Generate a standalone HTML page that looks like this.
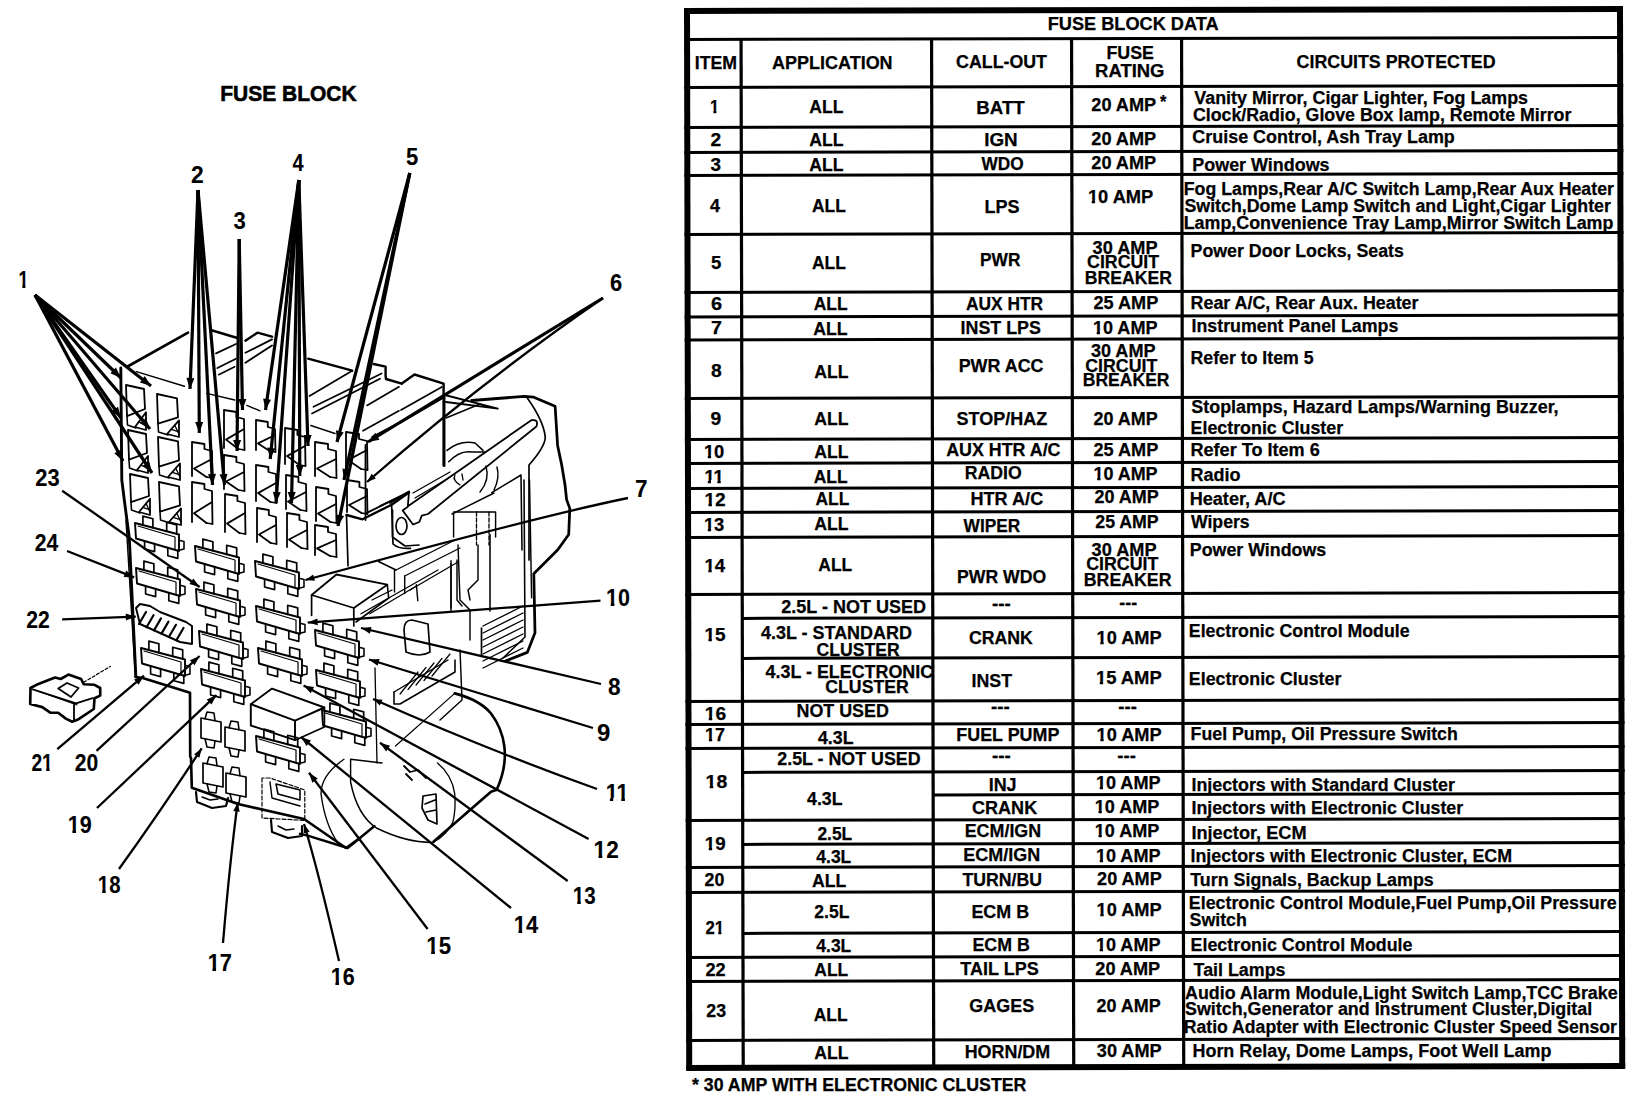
<!DOCTYPE html>
<html><head><meta charset="utf-8"><title>Fuse Block Data</title>
<style>html,body{margin:0;padding:0;background:#fff;}svg{display:block;}</style></head>
<body>
<svg width="1648" height="1100" viewBox="0 0 1648 1100">
<rect width="1648" height="1100" fill="#fff"/>
<g>
<path d="M127.6,366.5 L188.0,332.7" stroke="#000" stroke-width="2.64" fill="none" stroke-linejoin="round" stroke-linecap="round"/>
<path d="M210.7,330.0 L237.4,338.0" stroke="#000" stroke-width="2.40" fill="none" stroke-linejoin="round" stroke-linecap="round"/>
<path d="M245.4,340.7 L257.4,332.7 L272.0,336.7" stroke="#000" stroke-width="2.40" fill="none" stroke-linejoin="round" stroke-linecap="round"/>
<path d="M272.0,339.4 L245.4,352.7" stroke="#000" stroke-width="1.80" fill="none" stroke-linejoin="round" stroke-linecap="round"/>
<path d="M272.0,345.4 L245.4,362.7" stroke="#000" stroke-width="1.80" fill="none" stroke-linejoin="round" stroke-linecap="round"/>
<path d="M236.0,344.0 L216.0,353.4" stroke="#000" stroke-width="1.80" fill="none" stroke-linejoin="round" stroke-linecap="round"/>
<path d="M236.0,358.7 L217.4,368.0" stroke="#000" stroke-width="1.80" fill="none" stroke-linejoin="round" stroke-linecap="round"/>
<path d="M234.7,366.7 L218.7,374.7" stroke="#000" stroke-width="1.56" fill="none" stroke-linejoin="round" stroke-linecap="round"/>
<path d="M308.2,358.7 L352.2,370.7" stroke="#000" stroke-width="2.40" fill="none" stroke-linejoin="round" stroke-linecap="round"/>
<path d="M352.2,370.7 L309.5,396.0" stroke="#000" stroke-width="1.68" fill="none" stroke-linejoin="round" stroke-linecap="round"/>
<path d="M373.6,364.0 L385.6,366.7 L385.6,376.0 L386.0,379.0 L401.8,383.6" stroke="#000" stroke-width="2.40" fill="none" stroke-linejoin="round" stroke-linecap="round"/>
<path d="M401.8,383.6 L414.5,374.5 L443.6,383.6 L443.6,465.5" stroke="#000" stroke-width="2.40" fill="none" stroke-linejoin="round" stroke-linecap="round"/>
<path d="M381.6,373.4 L313.5,406.8" stroke="#000" stroke-width="1.68" fill="none" stroke-linejoin="round" stroke-linecap="round"/>
<path d="M380.0,378.7 L312.0,413.5" stroke="#000" stroke-width="1.68" fill="none" stroke-linejoin="round" stroke-linecap="round"/>
<path d="M399.0,386.8 L367.0,405.4" stroke="#000" stroke-width="1.68" fill="none" stroke-linejoin="round" stroke-linecap="round"/>
<path d="M399.0,410.8 L363.0,430.8" stroke="#000" stroke-width="1.68" fill="none" stroke-linejoin="round" stroke-linecap="round"/>
<path d="M399.0,422.8 L372.0,437.0" stroke="#000" stroke-width="1.68" fill="none" stroke-linejoin="round" stroke-linecap="round"/>
<path d="M441.8,387.0 L401.0,410.0" stroke="#000" stroke-width="1.68" fill="none" stroke-linejoin="round" stroke-linecap="round"/>
<path d="M443.0,398.0 L400.0,423.0" stroke="#000" stroke-width="1.68" fill="none" stroke-linejoin="round" stroke-linecap="round"/>
<path d="M136.4,371.6 L184.4,386.2" stroke="#000" stroke-width="1.44" fill="none" stroke-linejoin="round" stroke-linecap="round"/>
<path d="M206.7,393.4 L234.7,400.0" stroke="#000" stroke-width="1.44" fill="none" stroke-linejoin="round" stroke-linecap="round"/>
<path d="M246.8,405.4 L260.0,410.8" stroke="#000" stroke-width="1.44" fill="none" stroke-linejoin="round" stroke-linecap="round"/>
<path d="M310.8,425.5 L335.0,433.5" stroke="#000" stroke-width="1.44" fill="none" stroke-linejoin="round" stroke-linecap="round"/>
<path d="M443.8,394.7 L497.8,408.6 L446.0,402.0" stroke="#000" stroke-width="1.92" fill="none" stroke-linejoin="round" stroke-linecap="round"/>
<path d="M446.0,418.0 L480.0,404.0" stroke="#000" stroke-width="1.44" fill="none" stroke-linejoin="round" stroke-linecap="round"/>
<path d="M471.7,400.5 L524.0,396.4 L533.8,397.2 L555.1,406.2 L557.6,445.5 L561.7,465.0 L565.0,484.7 L566.6,499.6 L569.8,508.4 L568.7,534.5 L557.8,549.8 L536.0,571.6 L533.8,573.8 L535.0,632.7 L527.3,652.4 L505.5,661.0" stroke="#000" stroke-width="2.76" fill="none" stroke-linejoin="round" stroke-linecap="round"/>
<path d="M527.3,398 Q543.7,421 545.3,437.3 Q545,447 529,465 L529,560" stroke="#000" stroke-width="1.68" fill="none" stroke-linejoin="round" stroke-linecap="round"/>
<path d="M524.0,480.0 L525.0,637.0 L503.0,658.0" stroke="#000" stroke-width="1.56" fill="none" stroke-linejoin="round" stroke-linecap="round"/>
<path d="M529.5,480.0 L531.6,597.8" stroke="#000" stroke-width="1.44" fill="none" stroke-linejoin="round" stroke-linecap="round"/>
<path d="M483.0,626.0 L523.0,606.0" stroke="#000" stroke-width="1.32" fill="none" stroke-linejoin="round" stroke-linecap="round"/>
<path d="M483.0,633.0 L523.0,613.0" stroke="#000" stroke-width="1.32" fill="none" stroke-linejoin="round" stroke-linecap="round"/>
<path d="M483.0,640.0 L523.0,620.0" stroke="#000" stroke-width="1.32" fill="none" stroke-linejoin="round" stroke-linecap="round"/>
<path d="M483.0,647.0 L523.0,627.0" stroke="#000" stroke-width="1.32" fill="none" stroke-linejoin="round" stroke-linecap="round"/>
<path d="M483.0,654.0 L523.0,634.0" stroke="#000" stroke-width="1.32" fill="none" stroke-linejoin="round" stroke-linecap="round"/>
<path d="M483.0,661.0 L523.0,641.0" stroke="#000" stroke-width="1.32" fill="none" stroke-linejoin="round" stroke-linecap="round"/>
<path d="M483.0,668.0 L523.0,648.0" stroke="#000" stroke-width="1.32" fill="none" stroke-linejoin="round" stroke-linecap="round"/>
<path d="M481.5,628.0 L481.5,654.5" stroke="#000" stroke-width="1.68" fill="none" stroke-linejoin="round" stroke-linecap="round"/>
<path d="M490.0,534.5 L490.0,611.0" stroke="#000" stroke-width="1.56" fill="none" stroke-linejoin="round" stroke-linecap="round"/>
<path d="M451.0,560.7 L451.0,611.0" stroke="#000" stroke-width="1.44" fill="none" stroke-linejoin="round" stroke-linecap="round"/>
<path d="M458.0,545.0 L460.0,600.0 L470.0,610.0 L470.0,640.0" stroke="#000" stroke-width="1.44" fill="none" stroke-linejoin="round" stroke-linecap="round"/>
<path d="M478.0,545.0 L478.0,580.0 L468.0,590.0 L470.0,600.0" stroke="#000" stroke-width="1.44" fill="none" stroke-linejoin="round" stroke-linecap="round"/>
<path d="M390,503 L409,491.5 L407.8,506.7 L402.7,510.5 L413,524.5 L419.3,522 L421.8,515.6 L428,514 L536.4,426.5 Q539,419 531.3,420.2 L409,505.5" stroke="#000" stroke-width="1.80" fill="none" stroke-linejoin="round" stroke-linecap="round"/>
<path d="M413.0,493.0 L450.0,472.0" stroke="#000" stroke-width="1.32" fill="none" stroke-linejoin="round" stroke-linecap="round"/>
<path d="M415.0,498.0 L447.0,479.0" stroke="#000" stroke-width="1.32" fill="none" stroke-linejoin="round" stroke-linecap="round"/>
<path d="M455,475 Q452,480 460,485 M462,474 L463,480" stroke="#000" stroke-width="1.32" fill="none" stroke-linejoin="round" stroke-linecap="round"/>
<path d="M486,466 Q490,480 480,492 M497,467 Q500,478 494,490" stroke="#000" stroke-width="1.44" fill="none" stroke-linejoin="round" stroke-linecap="round"/>
<path d="M453.6,537.0 L453.6,512.0 L495.6,512.0 L495.6,537.0" stroke="#000" stroke-width="1.44" fill="none" stroke-linejoin="round" stroke-linecap="round"/>
<path d="M476.5,512.0 L476.5,545.0" stroke="#000" stroke-width="1.32" fill="none" stroke-linejoin="round" stroke-linecap="round" stroke-dasharray="4 2"/>
<path d="M489.0,512.0 L489.0,545.0" stroke="#000" stroke-width="1.32" fill="none" stroke-linejoin="round" stroke-linecap="round" stroke-dasharray="4 2"/>
<path d="M491.8,492.7 L521.0,475.0 L522.0,550.0" stroke="#000" stroke-width="1.56" fill="none" stroke-linejoin="round" stroke-linecap="round"/>
<path d="M392.5,510.0 L392.5,537.0 L405.0,546.0 L419.0,545.0" stroke="#000" stroke-width="1.68" fill="none" stroke-linejoin="round" stroke-linecap="round"/>
<path d="M447,450.4 Q460,440 475,443 L483,450.4" stroke="#000" stroke-width="1.56" fill="none" stroke-linejoin="round" stroke-linecap="round"/>
<path d="M448.7,461.8 Q460,450 471.7,452 L485,452" stroke="#000" stroke-width="1.44" fill="none" stroke-linejoin="round" stroke-linecap="round"/>
<path d="M396,526 a5.5,8.5 0 1,0 11,0 a5.5,8.5 0 1,0 -11,0" stroke="#000" stroke-width="1.68" fill="none" stroke-linejoin="round" stroke-linecap="round"/>
<path d="M380.0,506.0 L407.8,493.0" stroke="#000" stroke-width="1.68" fill="none" stroke-linejoin="round" stroke-linecap="round"/>
<path d="M452.0,514.0 L494.0,493.0" stroke="#000" stroke-width="1.44" fill="none" stroke-linejoin="round" stroke-linecap="round"/>
<path d="M365.5,445.0 L365.5,520.0" stroke="#000" stroke-width="1.80" fill="none" stroke-linejoin="round" stroke-linecap="round"/>
<path d="M367.3,512.7 L409.0,491.8" stroke="#000" stroke-width="1.92" fill="none" stroke-linejoin="round" stroke-linecap="round"/>
<path d="M444.5,394.0 L444.5,466.0" stroke="#000" stroke-width="1.92" fill="none" stroke-linejoin="round" stroke-linecap="round"/>
<path d="M346.5,515.0 L362.5,519.3 L391.6,504.7 L409.0,492.4" stroke="#000" stroke-width="2.40" fill="none" stroke-linejoin="round" stroke-linecap="round"/>
<path d="M346.5,515.0 L348.0,565.8" stroke="#000" stroke-width="1.68" fill="none" stroke-linejoin="round" stroke-linecap="round"/>
<path d="M391.6,504.7 L393,544 Q398,549 410.5,548.4" stroke="#000" stroke-width="1.68" fill="none" stroke-linejoin="round" stroke-linecap="round"/>
<path d="M311.6,595.0 L336.4,574.5 L387.3,584.7 L353.8,608.0Z" stroke="#000" stroke-width="1.80" fill="none" stroke-linejoin="round" stroke-linecap="round"/>
<path d="M311.6,595.0 L311.6,615.3" stroke="#000" stroke-width="1.68" fill="none" stroke-linejoin="round" stroke-linecap="round"/>
<path d="M353.8,608.0 L353.8,626.0" stroke="#000" stroke-width="1.68" fill="none" stroke-linejoin="round" stroke-linecap="round"/>
<path d="M387.3,584.7 L388.7,598.0 L356.0,622.0" stroke="#000" stroke-width="1.56" fill="none" stroke-linejoin="round" stroke-linecap="round"/>
<path d="M378.5,561.5 L396.0,570.0" stroke="#000" stroke-width="1.56" fill="none" stroke-linejoin="round" stroke-linecap="round"/>
<path d="M361.0,613.8 L438.0,570.0" stroke="#000" stroke-width="1.32" fill="none" stroke-linejoin="round" stroke-linecap="round"/>
<path d="M369.8,613.8 L416.4,586.0" stroke="#000" stroke-width="1.32" fill="none" stroke-linejoin="round" stroke-linecap="round"/>
<path d="M404.7,576.0 L460.0,548.0" stroke="#000" stroke-width="1.32" fill="none" stroke-linejoin="round" stroke-linecap="round"/>
<path d="M396.0,570.0 L455.0,540.0" stroke="#000" stroke-width="1.32" fill="none" stroke-linejoin="round" stroke-linecap="round"/>
<path d="M410.0,590.0 L458.0,562.0" stroke="#000" stroke-width="1.32" fill="none" stroke-linejoin="round" stroke-linecap="round"/>
<path d="M372.0,600.0 L392.0,590.0" stroke="#000" stroke-width="1.32" fill="none" stroke-linejoin="round" stroke-linecap="round"/>
<path d="M394.5,570.0 L394.5,592.0" stroke="#000" stroke-width="1.44" fill="none" stroke-linejoin="round" stroke-linecap="round"/>
<path d="M404.7,576.0 L404.7,593.5" stroke="#000" stroke-width="1.44" fill="none" stroke-linejoin="round" stroke-linecap="round"/>
<path d="M416.4,584.7 L417.8,600.7" stroke="#000" stroke-width="1.44" fill="none" stroke-linejoin="round" stroke-linecap="round"/>
<path d="M451.0,564.0 L451.0,608.0" stroke="#000" stroke-width="1.44" fill="none" stroke-linejoin="round" stroke-linecap="round"/>
<path d="M457.0,560.0 L457.0,600.0 L462.0,606.0" stroke="#000" stroke-width="1.44" fill="none" stroke-linejoin="round" stroke-linecap="round"/>
<path d="M404,630 Q404,620 412,620 L428,624 L430,652 Q420,658 406,652 Z" stroke="#000" stroke-width="1.68" fill="none" stroke-linejoin="round" stroke-linecap="round"/>
<path d="M394.0,692.0 L394.0,704.0 L400.0,704.0 L455.0,672.0 L455.0,660.0" stroke="#000" stroke-width="1.56" fill="none" stroke-linejoin="round" stroke-linecap="round"/>
<path d="M394.0,692.0 L448.0,660.0" stroke="#000" stroke-width="1.44" fill="none" stroke-linejoin="round" stroke-linecap="round"/>
<path d="M400.0,694.0 L418.0,672.0" stroke="#000" stroke-width="1.20" fill="none" stroke-linejoin="round" stroke-linecap="round"/>
<path d="M408.0,689.5 L426.0,667.5" stroke="#000" stroke-width="1.20" fill="none" stroke-linejoin="round" stroke-linecap="round"/>
<path d="M416.0,685.0 L434.0,663.0" stroke="#000" stroke-width="1.20" fill="none" stroke-linejoin="round" stroke-linecap="round"/>
<path d="M424.0,680.5 L442.0,658.5" stroke="#000" stroke-width="1.20" fill="none" stroke-linejoin="round" stroke-linecap="round"/>
<path d="M432.0,676.0 L450.0,654.0" stroke="#000" stroke-width="1.20" fill="none" stroke-linejoin="round" stroke-linecap="round"/>
<path d="M460.0,650.0 L462.0,700.0 L440.0,720.0" stroke="#000" stroke-width="1.44" fill="none" stroke-linejoin="round" stroke-linecap="round"/>
<path d="M120.8,368.0 L121.8,480.0 L124.3,500.0 L129.3,538.0 L135.8,675.6" stroke="#000" stroke-width="2.88" fill="none" stroke-linejoin="round" stroke-linecap="round"/>
<path d="M126.0,520.0 L135.4,677.0" stroke="#000" stroke-width="1.44" fill="none" stroke-linejoin="round" stroke-linecap="round"/>
<path d="M135.4,677.0 L142.7,678.0 L190.0,692.7 L190.2,756.6 L191.0,758.0 L191.8,787.7 L238.0,804.0 L304.0,819.0 L346.0,848.0 L360.0,838.0" stroke="#000" stroke-width="2.64" fill="none" stroke-linejoin="round" stroke-linecap="round"/>
<path d="M300.0,833.8 L307.6,835.7 L347.7,848.0 L374.5,826.0" stroke="#000" stroke-width="2.40" fill="none" stroke-linejoin="round" stroke-linecap="round"/>
<path d="M196.0,792.0 L197.0,802.0 L212.0,808.0 L226.0,806.0 L228.0,798.0" stroke="#000" stroke-width="2.16" fill="none" stroke-linejoin="round" stroke-linecap="round"/>
<path d="M271.0,820.0 L272.0,832.0 L288.0,838.0 L302.0,836.0 L302.0,826.0" stroke="#000" stroke-width="2.16" fill="none" stroke-linejoin="round" stroke-linecap="round"/>
<path d="M202.0,797.0 L210.0,800.0 L218.0,799.0" stroke="#000" stroke-width="1.44" fill="none" stroke-linejoin="round" stroke-linecap="round"/>
<path d="M278.0,826.0 L286.0,830.0 L294.0,829.0" stroke="#000" stroke-width="1.44" fill="none" stroke-linejoin="round" stroke-linecap="round"/>
<path d="M262.0,778.0 L262.0,818.0 L304.8,820.4 L304.8,790.0 L270.0,778.0Z" stroke="#000" stroke-width="1.20" fill="none" stroke-linejoin="round" stroke-linecap="round" stroke-dasharray="4 2"/>
<path d="M270.0,782.0 L272.0,798.0 L300.0,806.0" stroke="#000" stroke-width="1.44" fill="none" stroke-linejoin="round" stroke-linecap="round"/>
<path d="M276.0,784.0 L300.0,790.0 L300.0,800.0 L278.0,794.0Z" stroke="#000" stroke-width="1.56" fill="none" stroke-linejoin="round" stroke-linecap="round"/>
<path d="M250.8,704.2 L272.0,688.6 L324.4,707.5 L295.0,720.6Z" stroke="#000" stroke-width="1.92" fill="none" stroke-linejoin="round" stroke-linecap="round"/>
<path d="M250.8,704.2 L250.8,725.5 L295.0,740.2 L295.0,720.6" stroke="#000" stroke-width="1.92" fill="none" stroke-linejoin="round" stroke-linecap="round"/>
<path d="M295.0,740.2 L324.4,727.0 L324.4,707.5" stroke="#000" stroke-width="1.68" fill="none" stroke-linejoin="round" stroke-linecap="round"/>
<path d="M126.0,385.0 L144.0,389.0 L145.0,409.0 L127.0,416.2Z" stroke="#000" stroke-width="1.80" fill="none" stroke-linejoin="round" stroke-linecap="round"/><path d="M127.0,416.2 L127.5,425.0 L135.9,428.0" stroke="#000" stroke-width="1.56" fill="none" stroke-linejoin="round" stroke-linecap="round"/><path d="M135.0,427.0 L146.0,412.2 L146.0,430.0Z" stroke="#000" stroke-width="1.80" fill="none" stroke-linejoin="round" stroke-linecap="round"/><path d="M138.8,421.8 L146.0,424.8" stroke="#000" stroke-width="1.32" fill="none" stroke-linejoin="round" stroke-linecap="round"/><path d="M142.2,417.4 L146.0,427.2" stroke="#000" stroke-width="1.32" fill="none" stroke-linejoin="round" stroke-linecap="round"/>
<path d="M128.0,430.0 L146.0,434.0 L147.0,453.0 L129.0,459.6Z" stroke="#000" stroke-width="1.80" fill="none" stroke-linejoin="round" stroke-linecap="round"/><path d="M129.0,459.6 L129.5,468.0 L137.9,471.0" stroke="#000" stroke-width="1.56" fill="none" stroke-linejoin="round" stroke-linecap="round"/><path d="M137.0,470.0 L148.0,456.0 L148.0,473.0Z" stroke="#000" stroke-width="1.80" fill="none" stroke-linejoin="round" stroke-linecap="round"/><path d="M140.8,465.1 L148.0,467.8" stroke="#000" stroke-width="1.32" fill="none" stroke-linejoin="round" stroke-linecap="round"/><path d="M144.2,460.9 L148.0,470.2" stroke="#000" stroke-width="1.32" fill="none" stroke-linejoin="round" stroke-linecap="round"/>
<path d="M130.0,474.0 L148.0,478.0 L149.0,496.0 L131.0,502.1Z" stroke="#000" stroke-width="1.80" fill="none" stroke-linejoin="round" stroke-linecap="round"/><path d="M131.0,502.1 L131.5,510.0 L139.9,513.0" stroke="#000" stroke-width="1.56" fill="none" stroke-linejoin="round" stroke-linecap="round"/><path d="M139.0,512.0 L150.0,498.8 L150.0,515.0Z" stroke="#000" stroke-width="1.80" fill="none" stroke-linejoin="round" stroke-linecap="round"/><path d="M142.8,507.4 L150.0,509.8" stroke="#000" stroke-width="1.32" fill="none" stroke-linejoin="round" stroke-linecap="round"/><path d="M146.2,503.4 L150.0,512.2" stroke="#000" stroke-width="1.32" fill="none" stroke-linejoin="round" stroke-linecap="round"/>
<path d="M157.0,394.0 L177.0,398.4 L178.0,417.4 L158.0,423.6Z" stroke="#000" stroke-width="1.80" fill="none" stroke-linejoin="round" stroke-linecap="round"/><path d="M158.0,423.6 L158.5,432.0 L168.0,435.0" stroke="#000" stroke-width="1.56" fill="none" stroke-linejoin="round" stroke-linecap="round"/><path d="M167.0,434.0 L179.0,420.4 L179.0,437.0Z" stroke="#000" stroke-width="1.80" fill="none" stroke-linejoin="round" stroke-linecap="round"/><path d="M171.2,429.3 L179.0,431.8" stroke="#000" stroke-width="1.32" fill="none" stroke-linejoin="round" stroke-linecap="round"/><path d="M174.8,425.2 L179.0,434.2" stroke="#000" stroke-width="1.32" fill="none" stroke-linejoin="round" stroke-linecap="round"/>
<path d="M158.0,437.0 L178.0,441.4 L179.0,460.4 L159.0,466.6Z" stroke="#000" stroke-width="1.80" fill="none" stroke-linejoin="round" stroke-linecap="round"/><path d="M159.0,466.6 L159.5,475.0 L169.0,478.0" stroke="#000" stroke-width="1.56" fill="none" stroke-linejoin="round" stroke-linecap="round"/><path d="M168.0,477.0 L180.0,463.4 L180.0,480.0Z" stroke="#000" stroke-width="1.80" fill="none" stroke-linejoin="round" stroke-linecap="round"/><path d="M172.2,472.3 L180.0,474.8" stroke="#000" stroke-width="1.32" fill="none" stroke-linejoin="round" stroke-linecap="round"/><path d="M175.8,468.2 L180.0,477.2" stroke="#000" stroke-width="1.32" fill="none" stroke-linejoin="round" stroke-linecap="round"/>
<path d="M159.0,482.0 L179.0,486.4 L180.0,505.4 L160.0,511.6Z" stroke="#000" stroke-width="1.80" fill="none" stroke-linejoin="round" stroke-linecap="round"/><path d="M160.0,511.6 L160.5,520.0 L170.0,523.0" stroke="#000" stroke-width="1.56" fill="none" stroke-linejoin="round" stroke-linecap="round"/><path d="M169.0,522.0 L181.0,508.4 L181.0,525.0Z" stroke="#000" stroke-width="1.80" fill="none" stroke-linejoin="round" stroke-linecap="round"/><path d="M173.2,517.3 L181.0,519.8" stroke="#000" stroke-width="1.32" fill="none" stroke-linejoin="round" stroke-linecap="round"/><path d="M176.8,513.2 L181.0,522.2" stroke="#000" stroke-width="1.32" fill="none" stroke-linejoin="round" stroke-linecap="round"/>
<path d="M192.0,476.0 L192.0,442.0 L204.4,444.0 L204.4,449.0 L212.0,451.0 L212.5,478.0" stroke="#000" stroke-width="1.80" fill="none" stroke-linejoin="round" stroke-linecap="round"/><path d="M212.0,459.0 L194.0,468.5 L206.4,477.0" stroke="#000" stroke-width="1.80" fill="none" stroke-linejoin="round" stroke-linecap="round"/><path d="M206.4,477.0 L212.5,478.0" stroke="#000" stroke-width="1.44" fill="none" stroke-linejoin="round" stroke-linecap="round"/>
<path d="M192.0,522.0 L192.0,482.0 L204.4,484.0 L204.4,489.0 L212.0,491.0 L212.5,524.0" stroke="#000" stroke-width="1.80" fill="none" stroke-linejoin="round" stroke-linecap="round"/><path d="M212.0,502.0 L194.0,513.2 L206.4,523.0" stroke="#000" stroke-width="1.80" fill="none" stroke-linejoin="round" stroke-linecap="round"/><path d="M206.4,523.0 L212.5,524.0" stroke="#000" stroke-width="1.44" fill="none" stroke-linejoin="round" stroke-linecap="round"/>
<path d="M224.0,448.0 L224.0,410.0 L236.4,412.0 L236.4,417.0 L244.0,419.0 L244.5,450.0" stroke="#000" stroke-width="1.80" fill="none" stroke-linejoin="round" stroke-linecap="round"/><path d="M244.0,429.0 L226.0,439.6 L238.4,449.0" stroke="#000" stroke-width="1.80" fill="none" stroke-linejoin="round" stroke-linecap="round"/><path d="M238.4,449.0 L244.5,450.0" stroke="#000" stroke-width="1.44" fill="none" stroke-linejoin="round" stroke-linecap="round"/>
<path d="M224.0,489.0 L224.0,455.0 L236.4,457.0 L236.4,462.0 L244.0,464.0 L244.5,491.0" stroke="#000" stroke-width="1.80" fill="none" stroke-linejoin="round" stroke-linecap="round"/><path d="M244.0,472.0 L226.0,481.5 L238.4,490.0" stroke="#000" stroke-width="1.80" fill="none" stroke-linejoin="round" stroke-linecap="round"/><path d="M238.4,490.0 L244.5,491.0" stroke="#000" stroke-width="1.44" fill="none" stroke-linejoin="round" stroke-linecap="round"/>
<path d="M225.0,532.0 L225.0,494.0 L237.4,496.0 L237.4,501.0 L245.0,503.0 L245.5,534.0" stroke="#000" stroke-width="1.80" fill="none" stroke-linejoin="round" stroke-linecap="round"/><path d="M245.0,513.0 L227.0,523.6 L239.4,533.0" stroke="#000" stroke-width="1.80" fill="none" stroke-linejoin="round" stroke-linecap="round"/><path d="M239.4,533.0 L245.5,534.0" stroke="#000" stroke-width="1.44" fill="none" stroke-linejoin="round" stroke-linecap="round"/>
<path d="M256.0,450.0 L256.0,420.0 L267.8,422.0 L267.8,427.0 L275.0,429.0 L275.5,452.0" stroke="#000" stroke-width="1.80" fill="none" stroke-linejoin="round" stroke-linecap="round"/><path d="M275.0,435.0 L258.0,443.4 L269.7,451.0" stroke="#000" stroke-width="1.80" fill="none" stroke-linejoin="round" stroke-linecap="round"/><path d="M269.7,451.0 L275.5,452.0" stroke="#000" stroke-width="1.44" fill="none" stroke-linejoin="round" stroke-linecap="round"/>
<path d="M256.0,501.0 L256.0,465.0 L268.4,467.0 L268.4,472.0 L276.0,474.0 L276.5,503.0" stroke="#000" stroke-width="1.80" fill="none" stroke-linejoin="round" stroke-linecap="round"/><path d="M276.0,483.0 L258.0,493.1 L270.4,502.0" stroke="#000" stroke-width="1.80" fill="none" stroke-linejoin="round" stroke-linecap="round"/><path d="M270.4,502.0 L276.5,503.0" stroke="#000" stroke-width="1.44" fill="none" stroke-linejoin="round" stroke-linecap="round"/>
<path d="M257.0,542.0 L257.0,508.0 L268.8,510.0 L268.8,515.0 L276.0,517.0 L276.5,544.0" stroke="#000" stroke-width="1.80" fill="none" stroke-linejoin="round" stroke-linecap="round"/><path d="M276.0,525.0 L259.0,534.5 L270.7,543.0" stroke="#000" stroke-width="1.80" fill="none" stroke-linejoin="round" stroke-linecap="round"/><path d="M270.7,543.0 L276.5,544.0" stroke="#000" stroke-width="1.44" fill="none" stroke-linejoin="round" stroke-linecap="round"/>
<path d="M285.0,464.0 L285.0,428.0 L297.4,430.0 L297.4,435.0 L305.0,437.0 L305.5,466.0" stroke="#000" stroke-width="1.80" fill="none" stroke-linejoin="round" stroke-linecap="round"/><path d="M305.0,446.0 L287.0,456.1 L299.4,465.0" stroke="#000" stroke-width="1.80" fill="none" stroke-linejoin="round" stroke-linecap="round"/><path d="M299.4,465.0 L305.5,466.0" stroke="#000" stroke-width="1.44" fill="none" stroke-linejoin="round" stroke-linecap="round"/>
<path d="M286.0,509.0 L286.0,475.0 L298.4,477.0 L298.4,482.0 L306.0,484.0 L306.5,511.0" stroke="#000" stroke-width="1.80" fill="none" stroke-linejoin="round" stroke-linecap="round"/><path d="M306.0,492.0 L288.0,501.5 L300.4,510.0" stroke="#000" stroke-width="1.80" fill="none" stroke-linejoin="round" stroke-linecap="round"/><path d="M300.4,510.0 L306.5,511.0" stroke="#000" stroke-width="1.44" fill="none" stroke-linejoin="round" stroke-linecap="round"/>
<path d="M287.0,547.0 L287.0,513.0 L299.4,515.0 L299.4,520.0 L307.0,522.0 L307.5,549.0" stroke="#000" stroke-width="1.80" fill="none" stroke-linejoin="round" stroke-linecap="round"/><path d="M307.0,530.0 L289.0,539.5 L301.4,548.0" stroke="#000" stroke-width="1.80" fill="none" stroke-linejoin="round" stroke-linecap="round"/><path d="M301.4,548.0 L307.5,549.0" stroke="#000" stroke-width="1.44" fill="none" stroke-linejoin="round" stroke-linecap="round"/>
<path d="M315.0,476.0 L315.0,442.0 L328.0,444.0 L328.0,449.0 L336.0,451.0 L336.5,478.0" stroke="#000" stroke-width="1.80" fill="none" stroke-linejoin="round" stroke-linecap="round"/><path d="M336.0,459.0 L317.0,468.5 L330.1,477.0" stroke="#000" stroke-width="1.80" fill="none" stroke-linejoin="round" stroke-linecap="round"/><path d="M330.1,477.0 L336.5,478.0" stroke="#000" stroke-width="1.44" fill="none" stroke-linejoin="round" stroke-linecap="round"/>
<path d="M316.0,521.0 L316.0,487.0 L328.4,489.0 L328.4,494.0 L336.0,496.0 L336.5,523.0" stroke="#000" stroke-width="1.80" fill="none" stroke-linejoin="round" stroke-linecap="round"/><path d="M336.0,504.0 L318.0,513.5 L330.4,522.0" stroke="#000" stroke-width="1.80" fill="none" stroke-linejoin="round" stroke-linecap="round"/><path d="M330.4,522.0 L336.5,523.0" stroke="#000" stroke-width="1.44" fill="none" stroke-linejoin="round" stroke-linecap="round"/>
<path d="M315.0,555.0 L315.0,525.0 L328.0,527.0 L328.0,532.0 L336.0,534.0 L336.5,557.0" stroke="#000" stroke-width="1.80" fill="none" stroke-linejoin="round" stroke-linecap="round"/><path d="M336.0,540.0 L317.0,548.4 L330.1,556.0" stroke="#000" stroke-width="1.80" fill="none" stroke-linejoin="round" stroke-linecap="round"/><path d="M330.1,556.0 L336.5,557.0" stroke="#000" stroke-width="1.44" fill="none" stroke-linejoin="round" stroke-linecap="round"/>
<path d="M346.0,468.0 L346.0,432.0 L359.0,434.0 L359.0,439.0 L367.0,441.0 L367.5,470.0" stroke="#000" stroke-width="1.80" fill="none" stroke-linejoin="round" stroke-linecap="round"/><path d="M367.0,450.0 L348.0,460.1 L361.1,469.0" stroke="#000" stroke-width="1.80" fill="none" stroke-linejoin="round" stroke-linecap="round"/><path d="M361.1,469.0 L367.5,470.0" stroke="#000" stroke-width="1.44" fill="none" stroke-linejoin="round" stroke-linecap="round"/>
<path d="M347.0,512.0 L347.0,480.0 L359.4,482.0 L359.4,487.0 L367.0,489.0 L367.5,514.0" stroke="#000" stroke-width="1.80" fill="none" stroke-linejoin="round" stroke-linecap="round"/><path d="M367.0,496.0 L349.0,505.0 L361.4,513.0" stroke="#000" stroke-width="1.80" fill="none" stroke-linejoin="round" stroke-linecap="round"/><path d="M361.4,513.0 L367.5,514.0" stroke="#000" stroke-width="1.44" fill="none" stroke-linejoin="round" stroke-linecap="round"/>
<path d="M136.0,608.0 L140.0,604.0 L150.0,606.0 L160.0,612.0 L186.0,622.0 L192.0,626.0 L192.0,644.0 L180.0,642.0 L140.0,624.0Z" stroke="#000" stroke-width="1.92" fill="none" stroke-linejoin="round" stroke-linecap="round"/>
<path d="M146.0,612.0 L139.0,624.0" stroke="#000" stroke-width="2.16" fill="none" stroke-linejoin="round" stroke-linecap="round"/>
<path d="M153.5,615.2 L146.5,627.2" stroke="#000" stroke-width="2.16" fill="none" stroke-linejoin="round" stroke-linecap="round"/>
<path d="M161.0,618.4 L154.0,630.4" stroke="#000" stroke-width="2.16" fill="none" stroke-linejoin="round" stroke-linecap="round"/>
<path d="M168.5,621.6 L161.5,633.6" stroke="#000" stroke-width="2.16" fill="none" stroke-linejoin="round" stroke-linecap="round"/>
<path d="M176.0,624.8 L169.0,636.8" stroke="#000" stroke-width="2.16" fill="none" stroke-linejoin="round" stroke-linecap="round"/>
<path d="M183.5,628.0 L176.5,640.0" stroke="#000" stroke-width="2.16" fill="none" stroke-linejoin="round" stroke-linecap="round"/>
<path d="M135.0,523.0 L179.0,534.5 L179.0,551.0 L136.0,538.5Z" stroke="#000" stroke-width="1.92" fill="none" stroke-linejoin="round" stroke-linecap="round"/><path d="M138.0,526.0 L175.0,537.0 L175.0,549.0" stroke="#000" stroke-width="1.20" fill="none" stroke-linejoin="round" stroke-linecap="round"/><path d="M142.9,525.1 L142.9,516.1 L152.9,518.7 L152.9,527.7" stroke="#000" stroke-width="1.68" fill="none" stroke-linejoin="round" stroke-linecap="round"/><path d="M166.7,531.3 L166.7,522.3 L176.7,524.9 L176.7,533.9" stroke="#000" stroke-width="1.68" fill="none" stroke-linejoin="round" stroke-linecap="round"/><path d="M144.6,541.0 L144.6,549.0 L154.6,551.6 L154.6,543.6" stroke="#000" stroke-width="1.68" fill="none" stroke-linejoin="round" stroke-linecap="round"/><path d="M167.8,547.8 L167.8,555.8 L177.8,558.4 L177.8,550.4" stroke="#000" stroke-width="1.68" fill="none" stroke-linejoin="round" stroke-linecap="round"/><path d="M180.0,540.5 L184.0,541.5 L184.0,549.0 L180.0,550.0" stroke="#000" stroke-width="1.56" fill="none" stroke-linejoin="round" stroke-linecap="round"/>
<path d="M136.0,568.0 L180.0,579.5 L180.0,596.0 L137.0,583.5Z" stroke="#000" stroke-width="1.92" fill="none" stroke-linejoin="round" stroke-linecap="round"/><path d="M139.0,571.0 L176.0,582.0 L176.0,594.0" stroke="#000" stroke-width="1.20" fill="none" stroke-linejoin="round" stroke-linecap="round"/><path d="M143.9,570.1 L143.9,561.1 L153.9,563.7 L153.9,572.7" stroke="#000" stroke-width="1.68" fill="none" stroke-linejoin="round" stroke-linecap="round"/><path d="M167.7,576.3 L167.7,567.3 L177.7,569.9 L177.7,578.9" stroke="#000" stroke-width="1.68" fill="none" stroke-linejoin="round" stroke-linecap="round"/><path d="M145.6,586.0 L145.6,594.0 L155.6,596.6 L155.6,588.6" stroke="#000" stroke-width="1.68" fill="none" stroke-linejoin="round" stroke-linecap="round"/><path d="M168.8,592.8 L168.8,600.8 L178.8,603.4 L178.8,595.4" stroke="#000" stroke-width="1.68" fill="none" stroke-linejoin="round" stroke-linecap="round"/><path d="M181.0,585.5 L185.0,586.5 L185.0,594.0 L181.0,595.0" stroke="#000" stroke-width="1.56" fill="none" stroke-linejoin="round" stroke-linecap="round"/>
<path d="M195.0,546.0 L239.0,557.5 L239.0,574.0 L196.0,561.5Z" stroke="#000" stroke-width="1.92" fill="none" stroke-linejoin="round" stroke-linecap="round"/><path d="M198.0,549.0 L235.0,560.0 L235.0,572.0" stroke="#000" stroke-width="1.20" fill="none" stroke-linejoin="round" stroke-linecap="round"/><path d="M202.9,548.1 L202.9,539.1 L212.9,541.7 L212.9,550.7" stroke="#000" stroke-width="1.68" fill="none" stroke-linejoin="round" stroke-linecap="round"/><path d="M226.7,554.3 L226.7,545.3 L236.7,547.9 L236.7,556.9" stroke="#000" stroke-width="1.68" fill="none" stroke-linejoin="round" stroke-linecap="round"/><path d="M204.6,564.0 L204.6,572.0 L214.6,574.6 L214.6,566.6" stroke="#000" stroke-width="1.68" fill="none" stroke-linejoin="round" stroke-linecap="round"/><path d="M227.8,570.8 L227.8,578.8 L237.8,581.4 L237.8,573.4" stroke="#000" stroke-width="1.68" fill="none" stroke-linejoin="round" stroke-linecap="round"/><path d="M240.0,563.5 L244.0,564.5 L244.0,572.0 L240.0,573.0" stroke="#000" stroke-width="1.56" fill="none" stroke-linejoin="round" stroke-linecap="round"/>
<path d="M196.0,589.0 L240.0,600.5 L240.0,617.0 L197.0,604.5Z" stroke="#000" stroke-width="1.92" fill="none" stroke-linejoin="round" stroke-linecap="round"/><path d="M199.0,592.0 L236.0,603.0 L236.0,615.0" stroke="#000" stroke-width="1.20" fill="none" stroke-linejoin="round" stroke-linecap="round"/><path d="M203.9,591.1 L203.9,582.1 L213.9,584.7 L213.9,593.7" stroke="#000" stroke-width="1.68" fill="none" stroke-linejoin="round" stroke-linecap="round"/><path d="M227.7,597.3 L227.7,588.3 L237.7,590.9 L237.7,599.9" stroke="#000" stroke-width="1.68" fill="none" stroke-linejoin="round" stroke-linecap="round"/><path d="M205.6,607.0 L205.6,615.0 L215.6,617.6 L215.6,609.6" stroke="#000" stroke-width="1.68" fill="none" stroke-linejoin="round" stroke-linecap="round"/><path d="M228.8,613.8 L228.8,621.8 L238.8,624.4 L238.8,616.4" stroke="#000" stroke-width="1.68" fill="none" stroke-linejoin="round" stroke-linecap="round"/><path d="M241.0,606.5 L245.0,607.5 L245.0,615.0 L241.0,616.0" stroke="#000" stroke-width="1.56" fill="none" stroke-linejoin="round" stroke-linecap="round"/>
<path d="M199.0,631.0 L243.0,642.5 L243.0,659.0 L200.0,646.5Z" stroke="#000" stroke-width="1.92" fill="none" stroke-linejoin="round" stroke-linecap="round"/><path d="M202.0,634.0 L239.0,645.0 L239.0,657.0" stroke="#000" stroke-width="1.20" fill="none" stroke-linejoin="round" stroke-linecap="round"/><path d="M206.9,633.1 L206.9,624.1 L216.9,626.7 L216.9,635.7" stroke="#000" stroke-width="1.68" fill="none" stroke-linejoin="round" stroke-linecap="round"/><path d="M230.7,639.3 L230.7,630.3 L240.7,632.9 L240.7,641.9" stroke="#000" stroke-width="1.68" fill="none" stroke-linejoin="round" stroke-linecap="round"/><path d="M208.6,649.0 L208.6,657.0 L218.6,659.6 L218.6,651.6" stroke="#000" stroke-width="1.68" fill="none" stroke-linejoin="round" stroke-linecap="round"/><path d="M231.8,655.8 L231.8,663.8 L241.8,666.4 L241.8,658.4" stroke="#000" stroke-width="1.68" fill="none" stroke-linejoin="round" stroke-linecap="round"/><path d="M244.0,648.5 L248.0,649.5 L248.0,657.0 L244.0,658.0" stroke="#000" stroke-width="1.56" fill="none" stroke-linejoin="round" stroke-linecap="round"/>
<path d="M201.0,669.0 L245.0,680.5 L245.0,697.0 L202.0,684.5Z" stroke="#000" stroke-width="1.92" fill="none" stroke-linejoin="round" stroke-linecap="round"/><path d="M204.0,672.0 L241.0,683.0 L241.0,695.0" stroke="#000" stroke-width="1.20" fill="none" stroke-linejoin="round" stroke-linecap="round"/><path d="M208.9,671.1 L208.9,662.1 L218.9,664.7 L218.9,673.7" stroke="#000" stroke-width="1.68" fill="none" stroke-linejoin="round" stroke-linecap="round"/><path d="M232.7,677.3 L232.7,668.3 L242.7,670.9 L242.7,679.9" stroke="#000" stroke-width="1.68" fill="none" stroke-linejoin="round" stroke-linecap="round"/><path d="M210.6,687.0 L210.6,695.0 L220.6,697.6 L220.6,689.6" stroke="#000" stroke-width="1.68" fill="none" stroke-linejoin="round" stroke-linecap="round"/><path d="M233.8,693.8 L233.8,701.8 L243.8,704.4 L243.8,696.4" stroke="#000" stroke-width="1.68" fill="none" stroke-linejoin="round" stroke-linecap="round"/><path d="M246.0,686.5 L250.0,687.5 L250.0,695.0 L246.0,696.0" stroke="#000" stroke-width="1.56" fill="none" stroke-linejoin="round" stroke-linecap="round"/>
<path d="M255.0,561.0 L299.0,572.5 L299.0,589.0 L256.0,576.5Z" stroke="#000" stroke-width="1.92" fill="none" stroke-linejoin="round" stroke-linecap="round"/><path d="M258.0,564.0 L295.0,575.0 L295.0,587.0" stroke="#000" stroke-width="1.20" fill="none" stroke-linejoin="round" stroke-linecap="round"/><path d="M262.9,563.1 L262.9,554.1 L272.9,556.7 L272.9,565.7" stroke="#000" stroke-width="1.68" fill="none" stroke-linejoin="round" stroke-linecap="round"/><path d="M286.7,569.3 L286.7,560.3 L296.7,562.9 L296.7,571.9" stroke="#000" stroke-width="1.68" fill="none" stroke-linejoin="round" stroke-linecap="round"/><path d="M264.6,579.0 L264.6,587.0 L274.6,589.6 L274.6,581.6" stroke="#000" stroke-width="1.68" fill="none" stroke-linejoin="round" stroke-linecap="round"/><path d="M287.8,585.8 L287.8,593.8 L297.8,596.4 L297.8,588.4" stroke="#000" stroke-width="1.68" fill="none" stroke-linejoin="round" stroke-linecap="round"/><path d="M300.0,578.5 L304.0,579.5 L304.0,587.0 L300.0,588.0" stroke="#000" stroke-width="1.56" fill="none" stroke-linejoin="round" stroke-linecap="round"/>
<path d="M256.0,606.0 L300.0,617.5 L300.0,634.0 L257.0,621.5Z" stroke="#000" stroke-width="1.92" fill="none" stroke-linejoin="round" stroke-linecap="round"/><path d="M259.0,609.0 L296.0,620.0 L296.0,632.0" stroke="#000" stroke-width="1.20" fill="none" stroke-linejoin="round" stroke-linecap="round"/><path d="M263.9,608.1 L263.9,599.1 L273.9,601.7 L273.9,610.7" stroke="#000" stroke-width="1.68" fill="none" stroke-linejoin="round" stroke-linecap="round"/><path d="M287.7,614.3 L287.7,605.3 L297.7,607.9 L297.7,616.9" stroke="#000" stroke-width="1.68" fill="none" stroke-linejoin="round" stroke-linecap="round"/><path d="M265.6,624.0 L265.6,632.0 L275.6,634.6 L275.6,626.6" stroke="#000" stroke-width="1.68" fill="none" stroke-linejoin="round" stroke-linecap="round"/><path d="M288.8,630.8 L288.8,638.8 L298.8,641.4 L298.8,633.4" stroke="#000" stroke-width="1.68" fill="none" stroke-linejoin="round" stroke-linecap="round"/><path d="M301.0,623.5 L305.0,624.5 L305.0,632.0 L301.0,633.0" stroke="#000" stroke-width="1.56" fill="none" stroke-linejoin="round" stroke-linecap="round"/>
<path d="M258.0,648.0 L302.0,659.5 L302.0,676.0 L259.0,663.5Z" stroke="#000" stroke-width="1.92" fill="none" stroke-linejoin="round" stroke-linecap="round"/><path d="M261.0,651.0 L298.0,662.0 L298.0,674.0" stroke="#000" stroke-width="1.20" fill="none" stroke-linejoin="round" stroke-linecap="round"/><path d="M265.9,650.1 L265.9,641.1 L275.9,643.7 L275.9,652.7" stroke="#000" stroke-width="1.68" fill="none" stroke-linejoin="round" stroke-linecap="round"/><path d="M289.7,656.3 L289.7,647.3 L299.7,649.9 L299.7,658.9" stroke="#000" stroke-width="1.68" fill="none" stroke-linejoin="round" stroke-linecap="round"/><path d="M267.6,666.0 L267.6,674.0 L277.6,676.6 L277.6,668.6" stroke="#000" stroke-width="1.68" fill="none" stroke-linejoin="round" stroke-linecap="round"/><path d="M290.8,672.8 L290.8,680.8 L300.8,683.4 L300.8,675.4" stroke="#000" stroke-width="1.68" fill="none" stroke-linejoin="round" stroke-linecap="round"/><path d="M303.0,665.5 L307.0,666.5 L307.0,674.0 L303.0,675.0" stroke="#000" stroke-width="1.56" fill="none" stroke-linejoin="round" stroke-linecap="round"/>
<path d="M256.0,736.0 L300.0,747.5 L300.0,764.0 L257.0,751.5Z" stroke="#000" stroke-width="1.92" fill="none" stroke-linejoin="round" stroke-linecap="round"/><path d="M259.0,739.0 L296.0,750.0 L296.0,762.0" stroke="#000" stroke-width="1.20" fill="none" stroke-linejoin="round" stroke-linecap="round"/><path d="M263.9,738.1 L263.9,729.1 L273.9,731.7 L273.9,740.7" stroke="#000" stroke-width="1.68" fill="none" stroke-linejoin="round" stroke-linecap="round"/><path d="M287.7,744.3 L287.7,735.3 L297.7,737.9 L297.7,746.9" stroke="#000" stroke-width="1.68" fill="none" stroke-linejoin="round" stroke-linecap="round"/><path d="M265.6,754.0 L265.6,762.0 L275.6,764.6 L275.6,756.6" stroke="#000" stroke-width="1.68" fill="none" stroke-linejoin="round" stroke-linecap="round"/><path d="M288.8,760.8 L288.8,768.8 L298.8,771.4 L298.8,763.4" stroke="#000" stroke-width="1.68" fill="none" stroke-linejoin="round" stroke-linecap="round"/><path d="M301.0,753.5 L305.0,754.5 L305.0,762.0 L301.0,763.0" stroke="#000" stroke-width="1.56" fill="none" stroke-linejoin="round" stroke-linecap="round"/>
<path d="M141.0,648.0 L185.0,659.5 L185.0,676.0 L142.0,663.5Z" stroke="#000" stroke-width="1.92" fill="none" stroke-linejoin="round" stroke-linecap="round"/><path d="M144.0,651.0 L181.0,662.0 L181.0,674.0" stroke="#000" stroke-width="1.20" fill="none" stroke-linejoin="round" stroke-linecap="round"/><path d="M148.9,650.1 L148.9,641.1 L158.9,643.7 L158.9,652.7" stroke="#000" stroke-width="1.68" fill="none" stroke-linejoin="round" stroke-linecap="round"/><path d="M172.7,656.3 L172.7,647.3 L182.7,649.9 L182.7,658.9" stroke="#000" stroke-width="1.68" fill="none" stroke-linejoin="round" stroke-linecap="round"/><path d="M150.6,666.0 L150.6,674.0 L160.6,676.6 L160.6,668.6" stroke="#000" stroke-width="1.68" fill="none" stroke-linejoin="round" stroke-linecap="round"/><path d="M173.8,672.8 L173.8,680.8 L183.8,683.4 L183.8,675.4" stroke="#000" stroke-width="1.68" fill="none" stroke-linejoin="round" stroke-linecap="round"/><path d="M186.0,665.5 L190.0,666.5 L190.0,674.0 L186.0,675.0" stroke="#000" stroke-width="1.56" fill="none" stroke-linejoin="round" stroke-linecap="round"/>
<path d="M315.0,630.0 L359.0,641.5 L359.0,658.0 L316.0,645.5Z" stroke="#000" stroke-width="1.92" fill="none" stroke-linejoin="round" stroke-linecap="round"/><path d="M318.0,633.0 L355.0,644.0 L355.0,656.0" stroke="#000" stroke-width="1.20" fill="none" stroke-linejoin="round" stroke-linecap="round"/><path d="M322.9,632.1 L322.9,623.1 L332.9,625.7 L332.9,634.7" stroke="#000" stroke-width="1.68" fill="none" stroke-linejoin="round" stroke-linecap="round"/><path d="M346.7,638.3 L346.7,629.3 L356.7,631.9 L356.7,640.9" stroke="#000" stroke-width="1.68" fill="none" stroke-linejoin="round" stroke-linecap="round"/><path d="M324.6,648.0 L324.6,656.0 L334.6,658.6 L334.6,650.6" stroke="#000" stroke-width="1.68" fill="none" stroke-linejoin="round" stroke-linecap="round"/><path d="M347.8,654.8 L347.8,662.8 L357.8,665.4 L357.8,657.4" stroke="#000" stroke-width="1.68" fill="none" stroke-linejoin="round" stroke-linecap="round"/><path d="M360.0,647.5 L364.0,648.5 L364.0,656.0 L360.0,657.0" stroke="#000" stroke-width="1.56" fill="none" stroke-linejoin="round" stroke-linecap="round"/>
<path d="M316.0,670.0 L360.0,681.5 L360.0,698.0 L317.0,685.5Z" stroke="#000" stroke-width="1.92" fill="none" stroke-linejoin="round" stroke-linecap="round"/><path d="M319.0,673.0 L356.0,684.0 L356.0,696.0" stroke="#000" stroke-width="1.20" fill="none" stroke-linejoin="round" stroke-linecap="round"/><path d="M323.9,672.1 L323.9,663.1 L333.9,665.7 L333.9,674.7" stroke="#000" stroke-width="1.68" fill="none" stroke-linejoin="round" stroke-linecap="round"/><path d="M347.7,678.3 L347.7,669.3 L357.7,671.9 L357.7,680.9" stroke="#000" stroke-width="1.68" fill="none" stroke-linejoin="round" stroke-linecap="round"/><path d="M325.6,688.0 L325.6,696.0 L335.6,698.6 L335.6,690.6" stroke="#000" stroke-width="1.68" fill="none" stroke-linejoin="round" stroke-linecap="round"/><path d="M348.8,694.8 L348.8,702.8 L358.8,705.4 L358.8,697.4" stroke="#000" stroke-width="1.68" fill="none" stroke-linejoin="round" stroke-linecap="round"/><path d="M361.0,687.5 L365.0,688.5 L365.0,696.0 L361.0,697.0" stroke="#000" stroke-width="1.56" fill="none" stroke-linejoin="round" stroke-linecap="round"/>
<path d="M322.0,710.0 L366.0,721.5 L366.0,738.0 L323.0,725.5Z" stroke="#000" stroke-width="1.92" fill="none" stroke-linejoin="round" stroke-linecap="round"/><path d="M325.0,713.0 L362.0,724.0 L362.0,736.0" stroke="#000" stroke-width="1.20" fill="none" stroke-linejoin="round" stroke-linecap="round"/><path d="M329.9,712.1 L329.9,703.1 L339.9,705.7 L339.9,714.7" stroke="#000" stroke-width="1.68" fill="none" stroke-linejoin="round" stroke-linecap="round"/><path d="M353.7,718.3 L353.7,709.3 L363.7,711.9 L363.7,720.9" stroke="#000" stroke-width="1.68" fill="none" stroke-linejoin="round" stroke-linecap="round"/><path d="M331.6,728.0 L331.6,736.0 L341.6,738.6 L341.6,730.6" stroke="#000" stroke-width="1.68" fill="none" stroke-linejoin="round" stroke-linecap="round"/><path d="M354.8,734.8 L354.8,742.8 L364.8,745.4 L364.8,737.4" stroke="#000" stroke-width="1.68" fill="none" stroke-linejoin="round" stroke-linecap="round"/><path d="M367.0,727.5 L371.0,728.5 L371.0,736.0 L367.0,737.0" stroke="#000" stroke-width="1.56" fill="none" stroke-linejoin="round" stroke-linecap="round"/>
<path d="M201.0,718.0 L221.0,722.0 L221.0,742.0 L201.0,738.0Z" stroke="#000" stroke-width="1.68" fill="none" stroke-linejoin="round" stroke-linecap="round"/><path d="M205.0,718.8 L207.0,712.0 L214.0,713.0 L215.0,720.6" stroke="#000" stroke-width="1.56" fill="none" stroke-linejoin="round" stroke-linecap="round"/><path d="M205.0,738.8 L207.0,747.0 L214.0,748.0 L215.0,741.0" stroke="#000" stroke-width="1.56" fill="none" stroke-linejoin="round" stroke-linecap="round"/>
<path d="M225.0,727.0 L245.0,731.0 L245.0,751.0 L225.0,747.0Z" stroke="#000" stroke-width="1.68" fill="none" stroke-linejoin="round" stroke-linecap="round"/><path d="M229.0,727.8 L231.0,721.0 L238.0,722.0 L239.0,729.6" stroke="#000" stroke-width="1.56" fill="none" stroke-linejoin="round" stroke-linecap="round"/><path d="M229.0,747.8 L231.0,756.0 L238.0,757.0 L239.0,750.0" stroke="#000" stroke-width="1.56" fill="none" stroke-linejoin="round" stroke-linecap="round"/>
<path d="M203.0,763.0 L223.0,767.0 L223.0,787.0 L203.0,783.0Z" stroke="#000" stroke-width="1.68" fill="none" stroke-linejoin="round" stroke-linecap="round"/><path d="M207.0,763.8 L209.0,757.0 L216.0,758.0 L217.0,765.6" stroke="#000" stroke-width="1.56" fill="none" stroke-linejoin="round" stroke-linecap="round"/><path d="M207.0,783.8 L209.0,792.0 L216.0,793.0 L217.0,786.0" stroke="#000" stroke-width="1.56" fill="none" stroke-linejoin="round" stroke-linecap="round"/>
<path d="M226.0,773.0 L246.0,777.0 L246.0,797.0 L226.0,793.0Z" stroke="#000" stroke-width="1.68" fill="none" stroke-linejoin="round" stroke-linecap="round"/><path d="M230.0,773.8 L232.0,767.0 L239.0,768.0 L240.0,775.6" stroke="#000" stroke-width="1.56" fill="none" stroke-linejoin="round" stroke-linecap="round"/><path d="M230.0,793.8 L232.0,802.0 L239.0,803.0 L240.0,796.0" stroke="#000" stroke-width="1.56" fill="none" stroke-linejoin="round" stroke-linecap="round"/>
<path d="M454.7,693.4 Q480,700 491,713.5 Q502,728 504.3,746 Q507,767 496.7,789.8 L491,791.8 L433.7,841.4" stroke="#000" stroke-width="2.64" fill="none" stroke-linejoin="round" stroke-linecap="round"/>
<path d="M433.7,842.4 Q407,843 376.4,828 Q357,815 350.6,782 L350.6,759.3 L382,763" stroke="#000" stroke-width="1.44" fill="none" stroke-linejoin="round" stroke-linecap="round"/>
<path d="M437.5,763 Q452,775 454.7,793.7 Q456,810 452.8,822.3 Q446,836 433.7,842" stroke="#000" stroke-width="1.32" fill="none" stroke-linejoin="round" stroke-linecap="round"/>
<path d="M344,759.3 Q321,775 321,793.7 Q325,825 338.2,843.3" stroke="#000" stroke-width="1.32" fill="none" stroke-linejoin="round" stroke-linecap="round"/>
<path d="M454.7,693.4 L395.5,746.0" stroke="#000" stroke-width="1.20" fill="none" stroke-linejoin="round" stroke-linecap="round"/>
<path d="M375.0,668.0 L377.0,763.0" stroke="#000" stroke-width="1.32" fill="none" stroke-linejoin="round" stroke-linecap="round"/>
<path d="M404,766 L410,772 L418,770 L426,778 M406,774 L412,780" stroke="#000" stroke-width="1.80" fill="none" stroke-linejoin="round" stroke-linecap="round"/>
<path d="M423,796 L436,794 L437,824 L428,820 L422,808 Z M425,804 L435,800 M426,812 L436,810" stroke="#000" stroke-width="1.68" fill="none" stroke-linejoin="round" stroke-linecap="round"/>
<path d="M30.5,688.0 L36.5,684.8 L55.0,677.5 L60.7,679.0 L68.4,674.6 L81.1,679.0 L83.7,684.2 L94.5,684.8 L100.2,688.0 L100.2,695.6 L94.5,698.2 L93.8,709.0 L78.6,719.2 L72.2,721.7 L65.8,718.6 L58.2,712.8 L50.6,712.8 L42.3,707.1 L30.2,704.0Z" stroke="#000" stroke-width="2.64" fill="none" stroke-linejoin="round" stroke-linecap="round"/>
<path d="M32.7,689.3 L76.0,703.3 L92.6,698.2" stroke="#000" stroke-width="1.80" fill="none" stroke-linejoin="round" stroke-linecap="round"/>
<path d="M38.5,691.2 L77.0,705.0" stroke="#000" stroke-width="1.20" fill="none" stroke-linejoin="round" stroke-linecap="round"/>
<path d="M74.0,703.5 L74.0,720.0" stroke="#000" stroke-width="1.80" fill="none" stroke-linejoin="round" stroke-linecap="round"/>
<path d="M58.2,688.6 L67.0,683.0 L78.6,688.0 L71.0,697.0Z" stroke="#000" stroke-width="1.80" fill="none" stroke-linejoin="round" stroke-linecap="round"/>
<path d="M83.7,682.3 L110.4,666.4" stroke="#000" stroke-width="1.20" fill="none" stroke-linejoin="round" stroke-linecap="round" stroke-dasharray="3 2"/>
</g>
<g font-family="Liberation Sans, Arial, sans-serif" font-weight="bold" fill="#000" stroke="#000" stroke-width="0.1">
<text stroke-width="0.6" x="220.3" y="101.1" font-size="22" textLength="136.3" lengthAdjust="spacingAndGlyphs">FUSE BLOCK</text>
<text x="18.5" y="288.4" font-size="23" textLength="9.9" lengthAdjust="spacingAndGlyphs">1</text>
<text x="191.1" y="183.0" font-size="23" textLength="12.7" lengthAdjust="spacingAndGlyphs">2</text>
<text x="233.5" y="228.7" font-size="23" textLength="12.3" lengthAdjust="spacingAndGlyphs">3</text>
<text x="292.6" y="170.8" font-size="23" textLength="11.1" lengthAdjust="spacingAndGlyphs">4</text>
<text x="406.1" y="164.7" font-size="23" textLength="12.3" lengthAdjust="spacingAndGlyphs">5</text>
<text x="609.9" y="291.0" font-size="23" textLength="12.2" lengthAdjust="spacingAndGlyphs">6</text>
<text x="635.1" y="497.0" font-size="23" textLength="12.5" lengthAdjust="spacingAndGlyphs">7</text>
<text x="606.1" y="606.4" font-size="23" textLength="23.9" lengthAdjust="spacingAndGlyphs">10</text>
<text x="608.0" y="695.0" font-size="23" textLength="12.6" lengthAdjust="spacingAndGlyphs">8</text>
<text x="597.1" y="741.0" font-size="23" textLength="13.3" lengthAdjust="spacingAndGlyphs">9</text>
<text x="605.7" y="801.0" font-size="23" textLength="22.9" lengthAdjust="spacingAndGlyphs">11</text>
<text x="593.6" y="858.0" font-size="23" textLength="25.1" lengthAdjust="spacingAndGlyphs">12</text>
<text x="572.8" y="904.0" font-size="23" textLength="22.9" lengthAdjust="spacingAndGlyphs">13</text>
<text x="513.7" y="933.0" font-size="23" textLength="24.4" lengthAdjust="spacingAndGlyphs">14</text>
<text x="426.3" y="954.0" font-size="23" textLength="24.8" lengthAdjust="spacingAndGlyphs">15</text>
<text x="330.7" y="985.0" font-size="23" textLength="24.0" lengthAdjust="spacingAndGlyphs">16</text>
<text x="207.7" y="971.0" font-size="23" textLength="24.2" lengthAdjust="spacingAndGlyphs">17</text>
<text x="97.8" y="893.0" font-size="23" textLength="22.7" lengthAdjust="spacingAndGlyphs">18</text>
<text x="67.7" y="833.0" font-size="23" textLength="24.0" lengthAdjust="spacingAndGlyphs">19</text>
<text x="74.7" y="771.0" font-size="23" textLength="23.5" lengthAdjust="spacingAndGlyphs">20</text>
<text x="31.4" y="771.0" font-size="23" textLength="21.4" lengthAdjust="spacingAndGlyphs">21</text>
<text x="26.2" y="628.0" font-size="23" textLength="23.5" lengthAdjust="spacingAndGlyphs">22</text>
<text x="35.3" y="485.8" font-size="23" textLength="24.4" lengthAdjust="spacingAndGlyphs">23</text>
<text x="34.7" y="551.3" font-size="23" textLength="23.6" lengthAdjust="spacingAndGlyphs">24</text>
</g>
<g fill="#000">
<path d="M35.0,295.0L121.0,378.0" stroke="#000" stroke-width="3.2" fill="none"/><path d="M121.0,378.0L110.3,373.2L115.9,367.5Z"/>
<path d="M35.0,295.0L151.0,386.0" stroke="#000" stroke-width="3.2" fill="none"/><path d="M151.0,386.0L139.9,382.4L144.8,376.1Z"/>
<path d="M35.0,295.0L121.0,418.0" stroke="#000" stroke-width="3.2" fill="none"/><path d="M121.0,418.0L111.4,411.3L118.0,406.7Z"/>
<path d="M35.0,295.0L150.0,429.0" stroke="#000" stroke-width="3.2" fill="none"/><path d="M150.0,429.0L139.8,423.3L145.9,418.0Z"/>
<path d="M35.0,295.0L123.0,461.0" stroke="#000" stroke-width="3.2" fill="none"/><path d="M123.0,461.0L114.3,453.2L121.4,449.4Z"/>
<path d="M35.0,295.0L152.0,473.0" stroke="#000" stroke-width="3.2" fill="none"/><path d="M152.0,473.0L142.6,466.0L149.3,461.6Z"/>
<path d="M198.0,190.0L190.0,389.0" stroke="#000" stroke-width="3.2" fill="none"/><path d="M190.0,389.0L186.4,377.8L194.4,378.2Z"/>
<path d="M198.0,190.0L199.3,433.0" stroke="#000" stroke-width="3.2" fill="none"/><path d="M199.3,433.0L195.2,422.0L203.2,422.0Z"/>
<path d="M198.0,190.0L212.5,485.0" stroke="#000" stroke-width="3.2" fill="none"/><path d="M212.5,485.0L208.0,474.2L216.0,473.8Z"/>
<path d="M198.0,190.0L224.5,485.0" stroke="#000" stroke-width="3.2" fill="none"/><path d="M224.5,485.0L219.5,474.4L227.5,473.7Z"/>
<path d="M239.2,239.0L242.5,410.0" stroke="#000" stroke-width="3.2" fill="none"/><path d="M242.5,410.0L238.3,399.1L246.3,398.9Z"/>
<path d="M239.2,239.0L237.0,451.0" stroke="#000" stroke-width="3.2" fill="none"/><path d="M237.0,451.0L233.1,440.0L241.1,440.0Z"/>
<path d="M298.8,180.0L265.5,410.0" stroke="#000" stroke-width="3.2" fill="none"/><path d="M265.5,410.0L263.1,398.5L271.0,399.7Z"/>
<path d="M298.8,180.0L270.2,459.0" stroke="#000" stroke-width="3.2" fill="none"/><path d="M270.2,459.0L267.3,447.6L275.3,448.5Z"/>
<path d="M298.8,180.0L276.0,503.0" stroke="#000" stroke-width="3.2" fill="none"/><path d="M276.0,503.0L272.8,491.7L280.8,492.3Z"/>
<path d="M298.8,180.0L291.5,503.0" stroke="#000" stroke-width="3.2" fill="none"/><path d="M291.5,503.0L287.7,491.9L295.7,492.1Z"/>
<path d="M298.8,180.0L299.8,476.0" stroke="#000" stroke-width="3.2" fill="none"/><path d="M299.8,476.0L295.8,465.0L303.8,465.0Z"/>
<path d="M298.8,180.0L308.0,446.0" stroke="#000" stroke-width="3.2" fill="none"/><path d="M308.0,446.0L303.6,435.1L311.6,434.9Z"/>
<path d="M409.8,173.0L337.0,442.0" stroke="#000" stroke-width="3.2" fill="none"/><path d="M337.0,442.0L336.0,430.3L343.7,432.4Z"/>
<path d="M409.8,173.0L344.0,480.0" stroke="#000" stroke-width="3.2" fill="none"/><path d="M344.0,480.0L342.4,468.4L350.2,470.1Z"/>
<path d="M409.8,173.0L338.0,526.0" stroke="#000" stroke-width="3.2" fill="none"/><path d="M338.0,526.0L336.3,514.4L344.1,516.0Z"/>
<path d="M603.0,298.0L368.0,442.0" stroke="#000" stroke-width="3.2" fill="none"/><path d="M368.0,442.0L375.3,432.8L379.5,439.7Z"/>
<path d="M600.5,600.6L307.7,622.6" stroke="#000" stroke-width="2.3" fill="none"/><path d="M307.7,622.6L317.4,618.4L317.9,625.3Z"/>
<path d="M601.0,684.0L361.0,628.0" stroke="#000" stroke-width="2.3" fill="none"/><path d="M361.0,628.0L371.5,626.9L369.9,633.7Z"/>
<path d="M593.0,728.0L369.0,659.5" stroke="#000" stroke-width="2.3" fill="none"/><path d="M369.0,659.5L379.6,659.1L377.5,665.8Z"/>
<path d="M588.6,839.0L303.6,685.4" stroke="#000" stroke-width="2.3" fill="none"/><path d="M303.6,685.4L314.1,687.1L310.7,693.2Z"/>
<path d="M567.7,881.0L380.0,742.7" stroke="#000" stroke-width="2.3" fill="none"/><path d="M380.0,742.7L390.1,745.8L386.0,751.4Z"/>
<path d="M511.0,908.0L301.0,737.0" stroke="#000" stroke-width="2.3" fill="none"/><path d="M301.0,737.0L311.0,740.6L306.5,746.0Z"/>
<path d="M427.6,929.0L309.0,772.7" stroke="#000" stroke-width="2.3" fill="none"/><path d="M309.0,772.7L317.8,778.6L312.3,782.8Z"/>
<path d="M96.5,750.9L199.6,656.0" stroke="#000" stroke-width="2.3" fill="none"/><path d="M199.6,656.0L194.6,665.3L189.9,660.2Z"/>
<path d="M57.3,749.2L144.0,675.6" stroke="#000" stroke-width="2.3" fill="none"/><path d="M144.0,675.6L138.6,684.7L134.1,679.4Z"/>
<path d="M62.2,619.3L135.8,616.7" stroke="#000" stroke-width="2.3" fill="none"/><path d="M135.8,616.7L125.9,620.6L125.7,613.6Z"/>
<path d="M62.2,490.7L199.6,587.0" stroke="#000" stroke-width="2.3" fill="none"/><path d="M199.6,587.0L189.4,584.1L193.4,578.4Z"/>
<path d="M67.0,551.0L134.2,577.4" stroke="#000" stroke-width="2.3" fill="none"/><path d="M134.2,577.4L123.6,577.0L126.2,570.5Z"/>
<path d="M97.0,808.0L216.4,695.2" stroke="#000" stroke-width="2.3" fill="none"/><path d="M216.4,695.2L211.5,704.6L206.7,699.5Z"/>
<path d="M597.0,789.0Q486.8,749.6 373.0,699.0" stroke="#000" stroke-width="2.3" fill="none"/><path d="M373.0,699.0L382.5,699.7L379.9,705.6Z"/>
<path d="M603.0,298.0Q485.5,378.5 367.0,482.0" stroke="#000" stroke-width="2.3" fill="none"/><path d="M367.0,482.0L371.7,473.7L375.9,478.5Z"/>
<path d="M628.0,498.0Q540.0,516.0 305.4,580.0" stroke="#000" stroke-width="2.3" fill="none"/><path d="M305.4,580.0L313.2,574.5L314.9,580.7Z"/>
<path d="M119.0,869.0Q160.0,812.0 201.7,748.4" stroke="#000" stroke-width="2.3" fill="none"/><path d="M201.7,748.4L199.4,757.7L194.1,754.2Z"/>
<path d="M223.0,943.0Q230.0,860.0 237.7,802.4" stroke="#000" stroke-width="2.3" fill="none"/><path d="M237.7,802.4L239.7,811.7L233.3,810.9Z"/>
<path d="M339.0,961.0Q318.0,870.0 304.0,824.0" stroke="#000" stroke-width="2.3" fill="none"/><path d="M304.0,824.0L309.7,831.7L303.6,833.5Z"/>
</g>
<g transform="rotate(-0.12 684 8)" fill="#000">
<rect x="684" y="8.0" width="939" height="6"/>
<rect x="684" y="38.0" width="939" height="3"/>
<rect x="684" y="86.0" width="939" height="3"/>
<rect x="684" y="126.0" width="939" height="3"/>
<rect x="684" y="151.0" width="939" height="3"/>
<rect x="684" y="174.0" width="939" height="3"/>
<rect x="684" y="233.0" width="939" height="3"/>
<rect x="684" y="291.0" width="939" height="3"/>
<rect x="684" y="315.5" width="939" height="3"/>
<rect x="684" y="338.5" width="939" height="3"/>
<rect x="684" y="397.0" width="939" height="3"/>
<rect x="684" y="438.0" width="939" height="3"/>
<rect x="684" y="462.0" width="939" height="3"/>
<rect x="684" y="487.0" width="939" height="3"/>
<rect x="684" y="511.0" width="939" height="3"/>
<rect x="684" y="536.0" width="939" height="3"/>
<rect x="684" y="593.0" width="939" height="3"/>
<rect x="741" y="617.0" width="882" height="3"/>
<rect x="741" y="657.0" width="882" height="3"/>
<rect x="684" y="700.0" width="939" height="3"/>
<rect x="684" y="723.0" width="939" height="3"/>
<rect x="684" y="747.0" width="939" height="3"/>
<rect x="741" y="771.0" width="882" height="3"/>
<rect x="931.5" y="794.0" width="691.5" height="3"/>
<rect x="684" y="819.0" width="939" height="3"/>
<rect x="741" y="843.0" width="882" height="3"/>
<rect x="684" y="866.0" width="939" height="3"/>
<rect x="684" y="891.0" width="939" height="3"/>
<rect x="741" y="932.0" width="882" height="3"/>
<rect x="684" y="956.0" width="939" height="3"/>
<rect x="684" y="980.0" width="939" height="3"/>
<rect x="684" y="1039.0" width="939" height="3"/>
<rect x="684" y="1065.0" width="939" height="6"/>
<rect x="684" y="8" width="6" height="1062"/>
<rect x="1617" y="8" width="6" height="1062"/>
<rect x="739.4" y="39" width="3.2" height="1030"/>
<rect x="929.9" y="39" width="3.2" height="1030"/>
<rect x="1069.9" y="39" width="3.2" height="1030"/>
<rect x="1179.9" y="39" width="3.2" height="1030"/>
</g>
<g font-family="Liberation Sans, Arial, sans-serif" font-weight="bold" fill="#000" stroke="#000" stroke-width="0.25">
<text x="1047.7" y="30.0" font-size="18.0" textLength="170.9" lengthAdjust="spacingAndGlyphs">FUSE BLOCK DATA</text>
<text x="694.8" y="69.0" font-size="18.0" textLength="42.3" lengthAdjust="spacingAndGlyphs">ITEM</text>
<text x="772.1" y="69.0" font-size="18.0" textLength="120.5" lengthAdjust="spacingAndGlyphs">APPLICATION</text>
<text x="956.1" y="68.0" font-size="18.0" textLength="90.9" lengthAdjust="spacingAndGlyphs">CALL-OUT</text>
<text x="1106.4" y="59.0" font-size="18.0" textLength="47.5" lengthAdjust="spacingAndGlyphs">FUSE</text>
<text x="1095.1" y="77.0" font-size="18.0" textLength="69.4" lengthAdjust="spacingAndGlyphs">RATING</text>
<text x="1296.6" y="67.6" font-size="18.0" textLength="199.0" lengthAdjust="spacingAndGlyphs">CIRCUITS PROTECTED</text>
<text x="710.0" y="112.8" font-size="18.0" textLength="9.0" lengthAdjust="spacingAndGlyphs">1</text>
<text x="710.4" y="146.0" font-size="18.0" textLength="10.7" lengthAdjust="spacingAndGlyphs">2</text>
<text x="710.6" y="170.5" font-size="18.0" textLength="10.5" lengthAdjust="spacingAndGlyphs">3</text>
<text x="710.0" y="211.5" font-size="18.0" textLength="10.0" lengthAdjust="spacingAndGlyphs">4</text>
<text x="711.1" y="268.5" font-size="18.0" textLength="10.3" lengthAdjust="spacingAndGlyphs">5</text>
<text x="710.9" y="310.4" font-size="18.0" textLength="11.1" lengthAdjust="spacingAndGlyphs">6</text>
<text x="710.9" y="334.0" font-size="18.0" textLength="11.0" lengthAdjust="spacingAndGlyphs">7</text>
<text x="711.1" y="376.6" font-size="18.0" textLength="10.7" lengthAdjust="spacingAndGlyphs">8</text>
<text x="710.4" y="424.8" font-size="18.0" textLength="10.7" lengthAdjust="spacingAndGlyphs">9</text>
<text x="703.9" y="457.6" font-size="18.0" textLength="20.4" lengthAdjust="spacingAndGlyphs">10</text>
<text x="704.4" y="482.8" font-size="18.0" textLength="19.3" lengthAdjust="spacingAndGlyphs">11</text>
<text x="704.4" y="506.4" font-size="18.0" textLength="21.3" lengthAdjust="spacingAndGlyphs">12</text>
<text x="703.9" y="530.7" font-size="18.0" textLength="20.4" lengthAdjust="spacingAndGlyphs">13</text>
<text x="704.4" y="571.5" font-size="18.0" textLength="20.7" lengthAdjust="spacingAndGlyphs">14</text>
<text x="704.4" y="641.2" font-size="18.0" textLength="21.1" lengthAdjust="spacingAndGlyphs">15</text>
<text x="704.7" y="719.6" font-size="18.0" textLength="21.4" lengthAdjust="spacingAndGlyphs">16</text>
<text x="705.1" y="741.0" font-size="18.0" textLength="20.0" lengthAdjust="spacingAndGlyphs">17</text>
<text x="705.6" y="787.5" font-size="18.0" textLength="21.6" lengthAdjust="spacingAndGlyphs">18</text>
<text x="704.8" y="850.0" font-size="18.0" textLength="20.8" lengthAdjust="spacingAndGlyphs">19</text>
<text x="704.5" y="885.5" font-size="18.0" textLength="19.8" lengthAdjust="spacingAndGlyphs">20</text>
<text x="705.4" y="933.8" font-size="18.0" textLength="18.7" lengthAdjust="spacingAndGlyphs">21</text>
<text x="705.4" y="975.7" font-size="18.0" textLength="20.2" lengthAdjust="spacingAndGlyphs">22</text>
<text x="706.3" y="1016.7" font-size="18.0" textLength="19.8" lengthAdjust="spacingAndGlyphs">23</text>
<text x="809.2" y="113.0" font-size="18.0" textLength="34.2" lengthAdjust="spacingAndGlyphs">ALL</text>
<text x="809.2" y="146.0" font-size="18.0" textLength="34.4" lengthAdjust="spacingAndGlyphs">ALL</text>
<text x="809.2" y="170.5" font-size="18.0" textLength="34.2" lengthAdjust="spacingAndGlyphs">ALL</text>
<text x="811.9" y="211.5" font-size="18.0" textLength="33.9" lengthAdjust="spacingAndGlyphs">ALL</text>
<text x="811.9" y="268.5" font-size="18.0" textLength="33.9" lengthAdjust="spacingAndGlyphs">ALL</text>
<text x="813.7" y="310.4" font-size="18.0" textLength="33.9" lengthAdjust="spacingAndGlyphs">ALL</text>
<text x="813.2" y="335.0" font-size="18.0" textLength="34.4" lengthAdjust="spacingAndGlyphs">ALL</text>
<text x="814.3" y="377.5" font-size="18.0" textLength="34.3" lengthAdjust="spacingAndGlyphs">ALL</text>
<text x="814.3" y="424.5" font-size="18.0" textLength="34.3" lengthAdjust="spacingAndGlyphs">ALL</text>
<text x="814.3" y="457.6" font-size="18.0" textLength="34.3" lengthAdjust="spacingAndGlyphs">ALL</text>
<text x="813.7" y="482.8" font-size="18.0" textLength="33.9" lengthAdjust="spacingAndGlyphs">ALL</text>
<text x="815.5" y="504.6" font-size="18.0" textLength="33.9" lengthAdjust="spacingAndGlyphs">ALL</text>
<text x="814.3" y="530.1" font-size="18.0" textLength="34.3" lengthAdjust="spacingAndGlyphs">ALL</text>
<text x="818.3" y="571.1" font-size="18.0" textLength="33.9" lengthAdjust="spacingAndGlyphs">ALL</text>
<text x="781.3" y="613.0" font-size="18.0" textLength="144.7" lengthAdjust="spacingAndGlyphs">2.5L - NOT USED</text>
<text x="761.0" y="639.4" font-size="18.0" textLength="150.9" lengthAdjust="spacingAndGlyphs">4.3L - STANDARD</text>
<text x="816.6" y="655.8" font-size="18.0" textLength="83.1" lengthAdjust="spacingAndGlyphs">CLUSTER</text>
<text x="765.6" y="678.2" font-size="18.0" textLength="167.5" lengthAdjust="spacingAndGlyphs">4.3L - ELECTRONIC</text>
<text x="825.3" y="693.2" font-size="18.0" textLength="83.5" lengthAdjust="spacingAndGlyphs">CLUSTER</text>
<text x="796.5" y="717.0" font-size="18.0" textLength="92.3" lengthAdjust="spacingAndGlyphs">NOT USED</text>
<text x="818.0" y="743.8" font-size="18.0" textLength="35.5" lengthAdjust="spacingAndGlyphs">4.3L</text>
<text x="777.3" y="765.0" font-size="18.0" textLength="143.3" lengthAdjust="spacingAndGlyphs">2.5L - NOT USED</text>
<text x="807.1" y="804.8" font-size="18.0" textLength="35.4" lengthAdjust="spacingAndGlyphs">4.3L</text>
<text x="817.4" y="839.8" font-size="18.0" textLength="34.8" lengthAdjust="spacingAndGlyphs">2.5L</text>
<text x="816.3" y="862.8" font-size="18.0" textLength="35.0" lengthAdjust="spacingAndGlyphs">4.3L</text>
<text x="811.9" y="887.0" font-size="18.0" textLength="34.4" lengthAdjust="spacingAndGlyphs">ALL</text>
<text x="814.3" y="918.3" font-size="18.0" textLength="35.1" lengthAdjust="spacingAndGlyphs">2.5L</text>
<text x="816.3" y="951.5" font-size="18.0" textLength="35.0" lengthAdjust="spacingAndGlyphs">4.3L</text>
<text x="814.3" y="975.7" font-size="18.0" textLength="33.9" lengthAdjust="spacingAndGlyphs">ALL</text>
<text x="813.7" y="1021.2" font-size="18.0" textLength="33.9" lengthAdjust="spacingAndGlyphs">ALL</text>
<text x="814.3" y="1058.8" font-size="18.0" textLength="34.3" lengthAdjust="spacingAndGlyphs">ALL</text>
<text x="976.3" y="113.6" font-size="18.0" textLength="48.4" lengthAdjust="spacingAndGlyphs">BATT</text>
<text x="984.2" y="145.5" font-size="18.0" textLength="33.5" lengthAdjust="spacingAndGlyphs">IGN</text>
<text x="981.5" y="170.4" font-size="18.0" textLength="42.1" lengthAdjust="spacingAndGlyphs">WDO</text>
<text x="984.5" y="212.7" font-size="18.0" textLength="35.1" lengthAdjust="spacingAndGlyphs">LPS</text>
<text x="980.1" y="266.4" font-size="18.0" textLength="40.3" lengthAdjust="spacingAndGlyphs">PWR</text>
<text x="965.9" y="309.6" font-size="18.0" textLength="77.2" lengthAdjust="spacingAndGlyphs">AUX HTR</text>
<text x="960.6" y="333.6" font-size="18.0" textLength="80.2" lengthAdjust="spacingAndGlyphs">INST LPS</text>
<text x="958.7" y="371.8" font-size="18.0" textLength="84.8" lengthAdjust="spacingAndGlyphs">PWR ACC</text>
<text x="956.5" y="424.5" font-size="18.0" textLength="90.7" lengthAdjust="spacingAndGlyphs">STOP/HAZ</text>
<text x="946.2" y="456.4" font-size="18.0" textLength="114.3" lengthAdjust="spacingAndGlyphs">AUX HTR A/C</text>
<text x="964.8" y="478.5" font-size="18.0" textLength="57.0" lengthAdjust="spacingAndGlyphs">RADIO</text>
<text x="970.5" y="504.5" font-size="18.0" textLength="72.7" lengthAdjust="spacingAndGlyphs">HTR A/C</text>
<text x="963.6" y="531.8" font-size="18.0" textLength="56.7" lengthAdjust="spacingAndGlyphs">WIPER</text>
<text x="957.0" y="582.7" font-size="18.0" textLength="89.1" lengthAdjust="spacingAndGlyphs">PWR WDO</text>
<text x="991.9" y="610.2" font-size="18.0" textLength="18.8" lengthAdjust="spacingAndGlyphs">---</text>
<text x="968.9" y="643.6" font-size="18.0" textLength="64.0" lengthAdjust="spacingAndGlyphs">CRANK</text>
<text x="971.5" y="687.3" font-size="18.0" textLength="40.5" lengthAdjust="spacingAndGlyphs">INST</text>
<text x="991.1" y="713.2" font-size="18.0" textLength="18.7" lengthAdjust="spacingAndGlyphs">---</text>
<text x="956.3" y="741.0" font-size="18.0" textLength="103.1" lengthAdjust="spacingAndGlyphs">FUEL PUMP</text>
<text x="991.9" y="762.3" font-size="18.0" textLength="18.8" lengthAdjust="spacingAndGlyphs">---</text>
<text x="988.7" y="791.0" font-size="18.0" textLength="27.9" lengthAdjust="spacingAndGlyphs">INJ</text>
<text x="972.0" y="813.6" font-size="18.0" textLength="65.2" lengthAdjust="spacingAndGlyphs">CRANK</text>
<text x="964.7" y="837.3" font-size="18.0" textLength="76.5" lengthAdjust="spacingAndGlyphs">ECM/IGN</text>
<text x="963.2" y="861.0" font-size="18.0" textLength="77.0" lengthAdjust="spacingAndGlyphs">ECM/IGN</text>
<text x="962.5" y="885.5" font-size="18.0" textLength="79.5" lengthAdjust="spacingAndGlyphs">TURN/BU</text>
<text x="971.4" y="917.8" font-size="18.0" textLength="57.8" lengthAdjust="spacingAndGlyphs">ECM B</text>
<text x="972.4" y="950.5" font-size="18.0" textLength="57.4" lengthAdjust="spacingAndGlyphs">ECM B</text>
<text x="960.3" y="974.5" font-size="18.0" textLength="78.4" lengthAdjust="spacingAndGlyphs">TAIL LPS</text>
<text x="969.3" y="1012.4" font-size="18.0" textLength="64.8" lengthAdjust="spacingAndGlyphs">GAGES</text>
<text x="964.7" y="1057.6" font-size="18.0" textLength="85.5" lengthAdjust="spacingAndGlyphs">HORN/DM</text>
<text x="1091.3" y="110.5" font-size="18.0" textLength="64.9" lengthAdjust="spacingAndGlyphs">20 AMP</text>
<text x="1091.3" y="145.0" font-size="18.0" textLength="64.9" lengthAdjust="spacingAndGlyphs">20 AMP</text>
<text x="1091.3" y="168.5" font-size="18.0" textLength="64.9" lengthAdjust="spacingAndGlyphs">20 AMP</text>
<text x="1087.9" y="202.7" font-size="18.0" textLength="65.4" lengthAdjust="spacingAndGlyphs">10 AMP</text>
<text x="1092.6" y="253.6" font-size="18.0" textLength="65.0" lengthAdjust="spacingAndGlyphs">30 AMP</text>
<text x="1087.1" y="268.2" font-size="18.0" textLength="71.9" lengthAdjust="spacingAndGlyphs">CIRCUIT</text>
<text x="1084.8" y="283.6" font-size="18.0" textLength="87.2" lengthAdjust="spacingAndGlyphs">BREAKER</text>
<text x="1093.5" y="308.7" font-size="18.0" textLength="64.8" lengthAdjust="spacingAndGlyphs">25 AMP</text>
<text x="1092.9" y="333.6" font-size="18.0" textLength="64.7" lengthAdjust="spacingAndGlyphs">10 AMP</text>
<text x="1090.9" y="357.0" font-size="18.0" textLength="64.7" lengthAdjust="spacingAndGlyphs">30 AMP</text>
<text x="1085.3" y="371.8" font-size="18.0" textLength="72.0" lengthAdjust="spacingAndGlyphs">CIRCUIT</text>
<text x="1082.8" y="386.4" font-size="18.0" textLength="86.7" lengthAdjust="spacingAndGlyphs">BREAKER</text>
<text x="1093.5" y="424.5" font-size="18.0" textLength="64.2" lengthAdjust="spacingAndGlyphs">20 AMP</text>
<text x="1093.5" y="456.4" font-size="18.0" textLength="64.8" lengthAdjust="spacingAndGlyphs">25 AMP</text>
<text x="1093.4" y="479.6" font-size="18.0" textLength="64.2" lengthAdjust="spacingAndGlyphs">10 AMP</text>
<text x="1094.5" y="502.7" font-size="18.0" textLength="64.2" lengthAdjust="spacingAndGlyphs">20 AMP</text>
<text x="1095.3" y="527.6" font-size="18.0" textLength="63.4" lengthAdjust="spacingAndGlyphs">25 AMP</text>
<text x="1091.6" y="555.5" font-size="18.0" textLength="65.0" lengthAdjust="spacingAndGlyphs">30 AMP</text>
<text x="1086.3" y="570.0" font-size="18.0" textLength="72.0" lengthAdjust="spacingAndGlyphs">CIRCUIT</text>
<text x="1083.8" y="585.5" font-size="18.0" textLength="87.7" lengthAdjust="spacingAndGlyphs">BREAKER</text>
<text x="1119.3" y="609.2" font-size="18.0" textLength="17.8" lengthAdjust="spacingAndGlyphs">---</text>
<text x="1096.5" y="643.6" font-size="18.0" textLength="65.1" lengthAdjust="spacingAndGlyphs">10 AMP</text>
<text x="1095.9" y="684.2" font-size="18.0" textLength="65.8" lengthAdjust="spacingAndGlyphs">15 AMP</text>
<text x="1118.3" y="712.5" font-size="18.0" textLength="18.5" lengthAdjust="spacingAndGlyphs">---</text>
<text x="1096.5" y="741.0" font-size="18.0" textLength="65.1" lengthAdjust="spacingAndGlyphs">10 AMP</text>
<text x="1117.3" y="761.7" font-size="18.0" textLength="18.5" lengthAdjust="spacingAndGlyphs">---</text>
<text x="1095.9" y="789.0" font-size="18.0" textLength="64.7" lengthAdjust="spacingAndGlyphs">10 AMP</text>
<text x="1094.7" y="812.7" font-size="18.0" textLength="64.6" lengthAdjust="spacingAndGlyphs">10 AMP</text>
<text x="1094.7" y="836.7" font-size="18.0" textLength="64.6" lengthAdjust="spacingAndGlyphs">10 AMP</text>
<text x="1095.9" y="861.8" font-size="18.0" textLength="64.7" lengthAdjust="spacingAndGlyphs">10 AMP</text>
<text x="1097.1" y="884.5" font-size="18.0" textLength="64.6" lengthAdjust="spacingAndGlyphs">20 AMP</text>
<text x="1096.5" y="916.4" font-size="18.0" textLength="65.1" lengthAdjust="spacingAndGlyphs">10 AMP</text>
<text x="1095.9" y="951.0" font-size="18.0" textLength="64.7" lengthAdjust="spacingAndGlyphs">10 AMP</text>
<text x="1095.3" y="974.5" font-size="18.0" textLength="64.9" lengthAdjust="spacingAndGlyphs">20 AMP</text>
<text x="1096.5" y="1012.4" font-size="18.0" textLength="64.2" lengthAdjust="spacingAndGlyphs">20 AMP</text>
<text x="1096.8" y="1056.8" font-size="18.0" textLength="64.8" lengthAdjust="spacingAndGlyphs">30 AMP</text>
<text x="1194.3" y="103.6" font-size="18.0" textLength="333.7" lengthAdjust="spacingAndGlyphs">Vanity Mirror, Cigar Lighter, Fog Lamps</text>
<text x="1192.9" y="121.0" font-size="18.0" textLength="378.5" lengthAdjust="spacingAndGlyphs">Clock/Radio, Glove Box lamp, Remote Mirror</text>
<text x="1192.3" y="142.7" font-size="18.0" textLength="262.5" lengthAdjust="spacingAndGlyphs">Cruise Control, Ash Tray Lamp</text>
<text x="1192.3" y="170.5" font-size="18.0" textLength="137.3" lengthAdjust="spacingAndGlyphs">Power Windows</text>
<text x="1183.8" y="194.5" font-size="18.0" textLength="430.1" lengthAdjust="spacingAndGlyphs">Fog Lamps,Rear A/C Switch Lamp,Rear Aux Heater</text>
<text x="1184.5" y="211.8" font-size="18.0" textLength="426.4" lengthAdjust="spacingAndGlyphs">Switch,Dome Lamp Switch and Light,Cigar Lighter</text>
<text x="1183.7" y="229.0" font-size="18.0" textLength="429.7" lengthAdjust="spacingAndGlyphs">Lamp,Convenience Tray Lamp,Mirror Switch Lamp</text>
<text x="1190.6" y="257.0" font-size="18.0" textLength="213.3" lengthAdjust="spacingAndGlyphs">Power Door Locks, Seats</text>
<text x="1190.6" y="308.5" font-size="18.0" textLength="227.9" lengthAdjust="spacingAndGlyphs">Rear A/C, Rear Aux. Heater</text>
<text x="1191.5" y="332.0" font-size="18.0" textLength="206.9" lengthAdjust="spacingAndGlyphs">Instrument Panel Lamps</text>
<text x="1190.6" y="363.6" font-size="18.0" textLength="122.9" lengthAdjust="spacingAndGlyphs">Refer to Item 5</text>
<text x="1191.3" y="412.7" font-size="18.0" textLength="367.3" lengthAdjust="spacingAndGlyphs">Stoplamps, Hazard Lamps/Warning Buzzer,</text>
<text x="1190.6" y="433.6" font-size="18.0" textLength="152.5" lengthAdjust="spacingAndGlyphs">Electronic Cluster</text>
<text x="1190.5" y="456.4" font-size="18.0" textLength="129.2" lengthAdjust="spacingAndGlyphs">Refer To Item 6</text>
<text x="1190.5" y="480.5" font-size="18.0" textLength="50.1" lengthAdjust="spacingAndGlyphs">Radio</text>
<text x="1189.7" y="504.5" font-size="18.0" textLength="95.8" lengthAdjust="spacingAndGlyphs">Heater, A/C</text>
<text x="1191.0" y="528.2" font-size="18.0" textLength="58.6" lengthAdjust="spacingAndGlyphs">Wipers</text>
<text x="1189.8" y="556.4" font-size="18.0" textLength="136.4" lengthAdjust="spacingAndGlyphs">Power Windows</text>
<text x="1188.8" y="636.7" font-size="18.0" textLength="220.8" lengthAdjust="spacingAndGlyphs">Electronic Control Module</text>
<text x="1188.8" y="684.5" font-size="18.0" textLength="152.6" lengthAdjust="spacingAndGlyphs">Electronic Cluster</text>
<text x="1190.6" y="739.6" font-size="18.0" textLength="267.2" lengthAdjust="spacingAndGlyphs">Fuel Pump, Oil Pressure Switch</text>
<text x="1191.5" y="790.5" font-size="18.0" textLength="263.4" lengthAdjust="spacingAndGlyphs">Injectors with Standard Cluster</text>
<text x="1191.5" y="813.6" font-size="18.0" textLength="271.6" lengthAdjust="spacingAndGlyphs">Injectors with Electronic Cluster</text>
<text x="1191.4" y="838.5" font-size="18.0" textLength="115.2" lengthAdjust="spacingAndGlyphs">Injector, ECM</text>
<text x="1190.5" y="861.5" font-size="18.0" textLength="321.6" lengthAdjust="spacingAndGlyphs">Injectors with Electronic Cluster, ECM</text>
<text x="1190.3" y="885.5" font-size="18.0" textLength="243.4" lengthAdjust="spacingAndGlyphs">Turn Signals, Backup Lamps</text>
<text x="1188.8" y="908.7" font-size="18.0" textLength="427.8" lengthAdjust="spacingAndGlyphs">Electronic Control Module,Fuel Pump,Oil Pressure</text>
<text x="1189.5" y="926.4" font-size="18.0" textLength="57.4" lengthAdjust="spacingAndGlyphs">Switch</text>
<text x="1190.6" y="950.5" font-size="18.0" textLength="221.9" lengthAdjust="spacingAndGlyphs">Electronic Control Module</text>
<text x="1193.6" y="975.7" font-size="18.0" textLength="91.9" lengthAdjust="spacingAndGlyphs">Tail Lamps</text>
<text x="1185.0" y="999.0" font-size="18.0" textLength="432.6" lengthAdjust="spacingAndGlyphs">Audio Alarm Module,Light Switch Lamp,TCC Brake</text>
<text x="1185.0" y="1015.4" font-size="18.0" textLength="407.1" lengthAdjust="spacingAndGlyphs">Switch,Generator and Instrument Cluster,Digital</text>
<text x="1183.8" y="1032.5" font-size="18.0" textLength="433.2" lengthAdjust="spacingAndGlyphs">Ratio Adapter with Electronic Cluster Speed Sensor</text>
<text x="1192.5" y="1056.5" font-size="18.0" textLength="358.9" lengthAdjust="spacingAndGlyphs">Horn Relay, Dome Lamps, Foot Well Lamp</text>
<text x="692.0" y="1091.0" font-size="18.0" textLength="334.4" lengthAdjust="spacingAndGlyphs">* 30 AMP WITH ELECTRONIC CLUSTER</text>
<text x="1160.0" y="107.7" font-size="18.0" textLength="6.4" lengthAdjust="spacingAndGlyphs">*</text>
</g>
<g fill="#fff"><rect x="18.72" y="285.05" width="3.58" height="5.45"/><rect x="25.45" y="285.05" width="3.36" height="5.45"/><rect x="606.55" y="603.05" width="4.21" height="5.45"/><rect x="614.41" y="603.05" width="3.94" height="5.45"/><rect x="606.03" y="797.65" width="3.88" height="5.45"/><rect x="613.28" y="797.65" width="3.63" height="5.45"/><rect x="617.01" y="797.65" width="4.25" height="5.45"/><rect x="624.93" y="797.65" width="3.97" height="5.45"/><rect x="594.12" y="854.65" width="4.40" height="5.45"/><rect x="602.31" y="854.65" width="4.11" height="5.45"/><rect x="573.20" y="900.65" width="4.06" height="5.45"/><rect x="580.78" y="900.65" width="3.80" height="5.45"/><rect x="514.18" y="929.65" width="4.29" height="5.45"/><rect x="522.18" y="929.65" width="4.01" height="5.45"/><rect x="426.80" y="950.65" width="4.35" height="5.45"/><rect x="434.91" y="950.65" width="4.07" height="5.45"/><rect x="331.16" y="981.65" width="4.23" height="5.45"/><rect x="339.05" y="981.65" width="3.95" height="5.45"/><rect x="208.17" y="967.65" width="4.26" height="5.45"/><rect x="216.11" y="967.65" width="3.98" height="5.45"/><rect x="98.19" y="889.65" width="4.03" height="5.45"/><rect x="105.71" y="889.65" width="3.77" height="5.45"/><rect x="68.16" y="829.65" width="4.23" height="5.45"/><rect x="76.05" y="829.65" width="3.95" height="5.45"/><rect x="42.40" y="767.65" width="3.83" height="5.45"/><rect x="49.58" y="767.65" width="3.59" height="5.45"/><rect x="710.12" y="109.96" width="3.23" height="5.01"/><rect x="716.42" y="109.96" width="3.03" height="5.01"/><rect x="704.16" y="454.76" width="3.60" height="5.01"/><rect x="711.12" y="454.76" width="3.37" height="5.01"/><rect x="704.54" y="479.96" width="3.28" height="5.01"/><rect x="710.93" y="479.96" width="3.07" height="5.01"/><rect x="713.79" y="479.96" width="3.59" height="5.01"/><rect x="720.74" y="479.96" width="3.36" height="5.01"/><rect x="704.71" y="503.56" width="3.74" height="5.01"/><rect x="711.92" y="503.56" width="3.50" height="5.01"/><rect x="704.16" y="527.86" width="3.60" height="5.01"/><rect x="711.12" y="527.86" width="3.37" height="5.01"/><rect x="704.67" y="568.66" width="3.65" height="5.01"/><rect x="711.72" y="568.66" width="3.41" height="5.01"/><rect x="704.69" y="638.36" width="3.71" height="5.01"/><rect x="711.86" y="638.36" width="3.47" height="5.01"/><rect x="705.01" y="716.76" width="3.75" height="5.01"/><rect x="712.26" y="716.76" width="3.51" height="5.01"/><rect x="705.33" y="738.16" width="3.54" height="5.01"/><rect x="712.19" y="738.16" width="3.31" height="5.01"/><rect x="705.92" y="784.66" width="3.78" height="5.01"/><rect x="713.22" y="784.66" width="3.54" height="5.01"/><rect x="705.08" y="847.16" width="3.66" height="5.01"/><rect x="712.16" y="847.16" width="3.42" height="5.01"/><rect x="714.90" y="930.96" width="3.34" height="5.01"/><rect x="721.40" y="930.96" width="3.13" height="5.01"/><rect x="1088.15" y="199.86" width="3.59" height="5.01"/><rect x="1095.11" y="199.86" width="3.36" height="5.01"/><rect x="1093.14" y="330.76" width="3.56" height="5.01"/><rect x="1100.03" y="330.76" width="3.33" height="5.01"/><rect x="1093.63" y="476.76" width="3.54" height="5.01"/><rect x="1100.48" y="476.76" width="3.31" height="5.01"/><rect x="1096.75" y="640.76" width="3.58" height="5.01"/><rect x="1103.68" y="640.76" width="3.35" height="5.01"/><rect x="1096.16" y="681.36" width="3.61" height="5.01"/><rect x="1103.15" y="681.36" width="3.38" height="5.01"/><rect x="1096.75" y="738.16" width="3.58" height="5.01"/><rect x="1103.68" y="738.16" width="3.35" height="5.01"/><rect x="1096.14" y="786.16" width="3.56" height="5.01"/><rect x="1103.03" y="786.16" width="3.33" height="5.01"/><rect x="1094.94" y="809.86" width="3.56" height="5.01"/><rect x="1101.82" y="809.86" width="3.33" height="5.01"/><rect x="1094.94" y="833.86" width="3.56" height="5.01"/><rect x="1101.82" y="833.86" width="3.33" height="5.01"/><rect x="1096.14" y="858.96" width="3.56" height="5.01"/><rect x="1103.03" y="858.96" width="3.33" height="5.01"/><rect x="1096.75" y="913.56" width="3.58" height="5.01"/><rect x="1103.68" y="913.56" width="3.35" height="5.01"/><rect x="1096.14" y="948.16" width="3.56" height="5.01"/><rect x="1103.03" y="948.16" width="3.33" height="5.01"/></g>
</svg>
</body></html>
